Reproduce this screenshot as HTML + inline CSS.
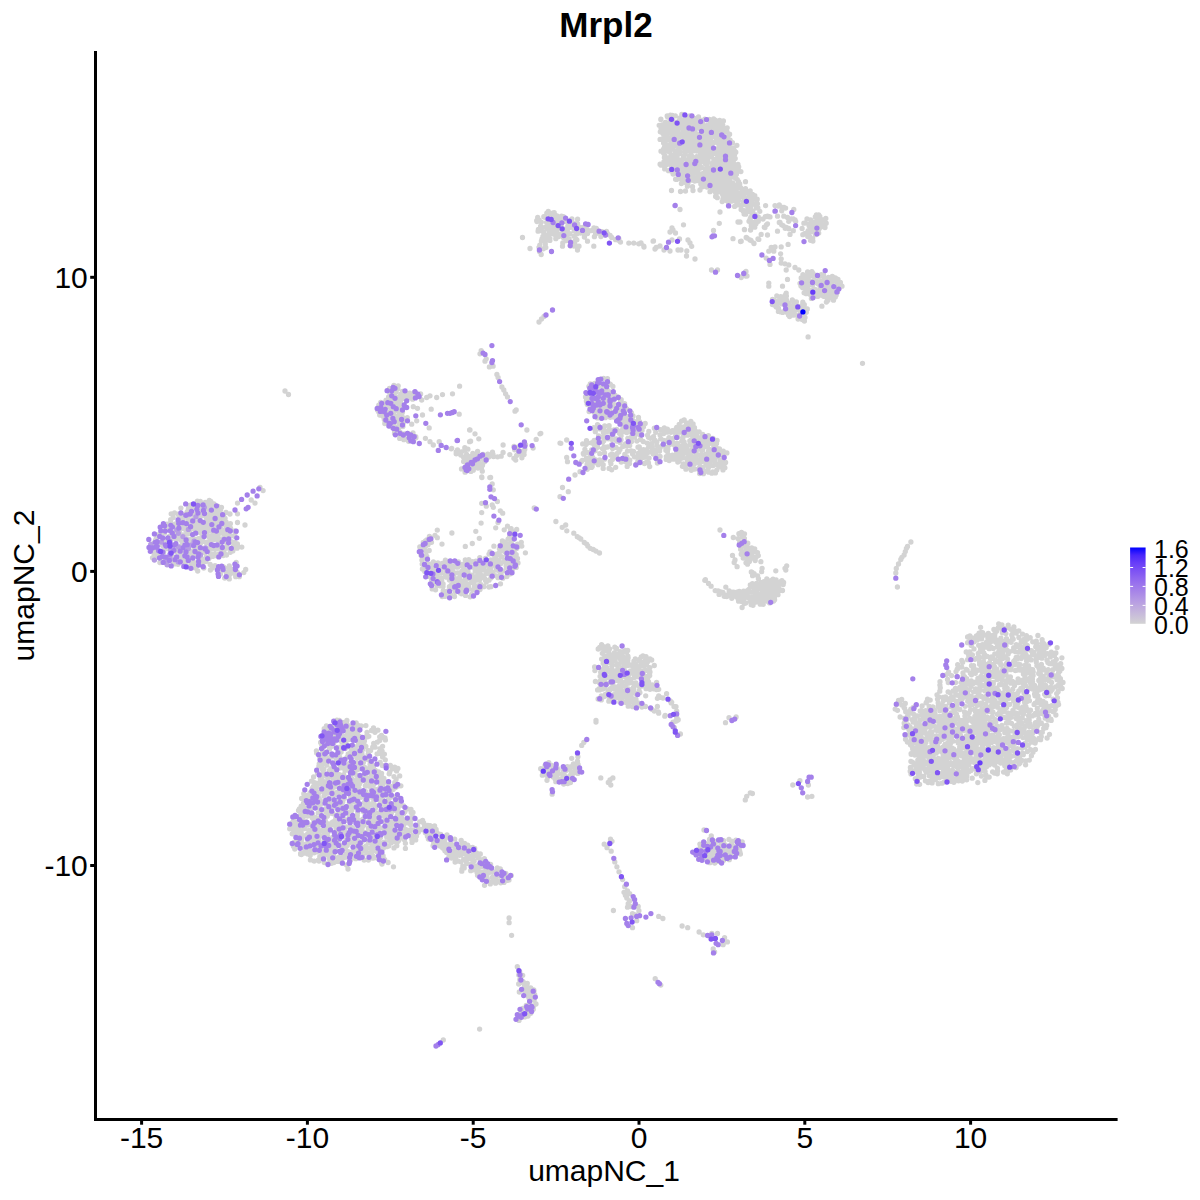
<!DOCTYPE html>
<html><head><meta charset="utf-8"><title>Mrpl2</title>
<style>html,body{margin:0;padding:0;background:#fff;width:1200px;height:1200px;overflow:hidden}svg{display:block}</style>
</head><body>
<svg width="1200" height="1200" viewBox="0 0 1200 1200">
<rect width="1200" height="1200" fill="#fff"/>
<g stroke-width="5.3" stroke-linecap="round" fill="none">
<path d="M667.2 115.9h0M670.4 115.1h0M672.4 115.4h0M675.3 115.9h0M681.8 114.5h0M689.8 116.0h0M660.9 119.2h0M667.7 117.0h0M672.0 119.0h0M680.0 118.0h0M686.9 118.2h0M690.4 119.0h0M694.5 118.4h0M698.5 116.9h0M704.8 119.1h0M713.6 118.9h0M660.8 119.4h0M665.5 122.3h0M670.2 121.3h0M674.0 122.1h0M674.8 122.1h0M679.1 120.5h0M682.6 119.7h0M685.6 121.0h0M690.1 122.2h0M692.9 121.2h0M696.1 121.5h0M700.5 121.4h0M701.2 120.5h0M709.4 119.4h0M713.4 120.3h0M715.3 120.2h0M719.7 120.5h0M723.4 121.0h0M661.9 124.9h0M665.1 123.1h0M668.3 123.6h0M671.0 122.6h0M674.2 124.2h0M679.1 124.6h0M681.0 122.2h0M683.7 125.1h0M687.8 123.7h0M691.4 124.8h0M693.2 122.7h0M698.3 124.2h0M701.8 122.6h0M702.8 123.2h0M707.9 125.0h0M710.3 123.1h0M714.0 124.1h0M718.0 124.2h0M719.9 123.0h0M722.7 125.0h0M659.2 125.3h0M665.3 127.7h0M670.2 126.7h0M674.2 125.8h0M676.3 126.1h0M678.7 125.4h0M683.3 125.6h0M685.2 127.0h0M690.3 126.3h0M693.4 126.4h0M695.3 125.4h0M700.2 127.3h0M702.4 125.9h0M706.4 127.0h0M710.1 126.8h0M712.2 126.0h0M717.0 127.2h0M719.0 126.5h0M722.4 126.8h0M727.2 127.8h0M661.0 128.4h0M665.2 129.8h0M667.7 128.3h0M670.9 130.7h0M673.1 128.9h0M677.8 130.4h0M681.5 128.1h0M683.3 129.1h0M688.0 129.8h0M690.4 128.0h0M694.0 130.6h0M697.4 128.0h0M700.7 128.9h0M703.6 129.1h0M708.2 130.7h0M710.5 127.9h0M714.1 129.5h0M718.4 129.5h0M719.7 128.0h0M723.1 130.7h0M726.0 128.9h0M660.3 131.8h0M662.9 133.6h0M666.1 132.8h0M669.2 131.7h0M674.3 131.1h0M675.8 132.8h0M680.3 133.6h0M683.3 131.2h0M686.5 131.3h0M690.0 133.7h0M691.8 133.4h0M695.6 133.2h0M700.6 133.4h0M701.8 132.5h0M707.0 133.0h0M710.6 132.9h0M712.4 131.2h0M717.2 132.6h0M717.9 131.2h0M723.1 131.7h0M727.1 131.8h0M665.0 135.9h0M667.8 133.7h0M672.4 135.2h0M673.4 134.6h0M678.8 134.6h0M681.4 135.3h0M685.1 134.0h0M688.9 136.2h0M690.2 136.3h0M693.4 136.3h0M699.1 134.7h0M702.2 135.7h0M705.0 136.6h0M708.5 136.4h0M712.1 134.9h0M714.3 135.5h0M717.0 134.4h0M720.2 134.4h0M723.4 136.2h0M728.0 136.6h0M729.6 134.2h0M663.1 138.5h0M666.8 138.3h0M669.3 138.5h0M674.0 138.6h0M675.0 137.5h0M679.0 137.1h0M683.8 137.3h0M684.7 137.7h0M690.2 136.5h0M691.5 138.2h0M695.7 137.3h0M699.0 137.8h0M702.2 136.7h0M706.5 136.5h0M707.8 139.1h0M712.6 136.8h0M716.7 139.2h0M720.3 136.5h0M721.1 139.1h0M660.1 139.4h0M664.6 140.1h0M667.1 139.7h0M671.1 140.7h0M673.8 141.9h0M677.2 141.5h0M680.9 142.3h0M685.5 141.9h0M687.1 140.2h0M692.0 141.4h0M694.8 140.1h0M697.0 141.7h0M701.1 140.3h0M703.8 141.1h0M706.6 141.9h0M710.5 140.1h0M715.5 141.7h0M717.9 140.4h0M720.8 139.4h0M725.2 140.8h0M726.8 139.9h0M730.1 140.2h0M663.6 143.1h0M666.2 144.7h0M670.6 144.2h0M674.1 143.4h0M674.9 144.3h0M680.9 142.2h0M682.6 143.4h0M687.1 142.3h0M688.9 143.5h0M691.9 143.7h0M696.4 143.8h0M698.1 144.1h0M701.4 145.1h0M706.8 144.5h0M710.5 142.7h0M713.9 142.4h0M717.2 142.6h0M720.3 143.0h0M723.1 144.6h0M726.2 142.4h0M728.4 143.9h0M732.5 142.6h0M664.5 147.1h0M667.1 147.7h0M671.5 146.4h0M673.6 146.5h0M678.2 145.6h0M680.9 147.0h0M683.4 147.0h0M686.9 145.2h0M691.8 147.3h0M694.1 147.9h0M698.4 147.9h0M701.2 145.2h0M704.3 145.1h0M708.5 146.9h0M711.6 145.6h0M712.8 147.6h0M718.9 145.2h0M719.6 147.6h0M724.1 146.7h0M727.0 145.5h0M729.6 146.9h0M733.5 147.9h0M736.9 145.3h0M663.5 149.1h0M667.4 149.8h0M670.0 150.1h0M673.1 149.1h0M677.5 150.7h0M678.7 148.5h0M684.2 148.6h0M686.3 149.2h0M689.1 149.7h0M693.5 150.8h0M695.0 148.5h0M700.1 148.6h0M703.9 149.2h0M707.1 150.8h0M710.2 150.8h0M712.1 148.5h0M716.6 149.2h0M718.7 150.6h0M721.9 148.7h0M726.6 150.6h0M727.9 148.9h0M734.3 150.3h0M661.0 151.2h0M663.7 153.2h0M668.1 151.3h0M670.2 150.8h0M675.6 151.4h0M677.6 152.3h0M679.8 151.8h0M684.7 152.1h0M688.4 151.2h0M691.1 151.0h0M693.9 150.8h0M696.8 151.1h0M701.1 151.9h0M705.4 151.9h0M708.7 151.6h0M710.8 151.8h0M715.0 153.4h0M716.8 153.1h0M720.1 152.1h0M724.2 151.4h0M726.7 151.0h0M730.2 151.7h0M734.8 151.6h0M735.8 152.2h0M665.1 155.8h0M670.8 155.7h0M672.3 155.0h0M675.9 155.0h0M679.6 153.7h0M683.6 156.2h0M685.0 154.3h0M689.3 156.5h0M691.6 155.9h0M696.6 156.6h0M700.3 154.9h0M701.8 156.2h0M706.2 154.2h0M710.2 154.0h0M711.3 155.8h0M716.9 154.6h0M717.8 155.6h0M721.8 156.1h0M724.4 155.6h0M729.7 153.8h0M731.8 155.2h0M734.5 154.7h0M664.4 157.5h0M669.0 158.2h0M671.5 158.5h0M673.7 157.9h0M677.1 157.4h0M682.6 159.4h0M683.8 157.6h0M689.2 159.1h0M691.1 157.9h0M695.5 158.6h0M698.0 159.0h0M701.1 158.9h0M705.3 157.3h0M708.3 157.1h0M710.3 156.8h0M714.0 159.3h0M717.6 157.8h0M721.4 157.4h0M725.1 158.8h0M727.2 157.4h0M730.1 158.6h0M735.2 158.4h0M664.0 161.7h0M667.5 161.2h0M669.9 160.7h0M673.2 161.3h0M675.2 160.3h0M680.1 160.3h0M681.5 159.8h0M687.2 159.8h0M688.9 161.4h0M691.3 159.9h0M695.6 159.6h0M698.6 161.5h0M701.2 161.8h0M705.6 160.6h0M708.1 161.6h0M713.4 162.2h0M715.2 161.3h0M718.3 161.6h0M722.7 161.7h0M726.8 160.3h0M729.2 161.2h0M733.3 161.6h0M660.1 164.2h0M664.0 165.0h0M667.1 163.9h0M670.0 163.6h0M673.4 164.7h0M677.4 163.8h0M679.9 163.2h0M683.3 164.7h0M687.2 162.3h0M689.8 162.9h0M694.6 163.5h0M698.9 163.9h0M699.7 163.7h0M705.3 163.6h0M707.0 164.4h0M712.3 163.8h0M715.1 163.5h0M718.9 163.7h0M719.9 163.0h0M725.0 162.3h0M726.9 163.5h0M730.1 163.1h0M734.8 164.7h0M738.0 164.4h0M661.1 165.2h0M663.7 165.2h0M665.7 165.3h0M671.1 165.8h0M671.8 165.5h0M677.3 167.4h0M678.9 167.0h0M681.5 165.6h0M685.4 167.3h0M689.8 167.1h0M691.8 166.4h0M695.5 166.1h0M698.4 166.2h0M701.4 167.4h0M706.3 167.8h0M710.1 168.0h0M712.4 167.9h0M715.8 166.2h0M720.5 166.6h0M722.5 165.2h0M726.4 166.9h0M730.0 166.4h0M731.6 166.7h0M738.7 166.8h0M664.7 168.9h0M668.5 170.7h0M671.3 170.9h0M675.4 169.2h0M679.0 168.6h0M679.8 169.8h0M683.7 169.4h0M687.8 170.4h0M691.3 169.3h0M694.2 168.8h0M698.2 168.6h0M700.6 168.1h0M705.4 170.6h0M706.2 170.8h0M712.0 167.9h0M713.3 170.6h0M716.2 169.7h0M720.9 169.1h0M724.7 167.9h0M726.2 169.3h0M729.9 170.2h0M735.1 169.1h0M673.0 171.8h0M675.0 171.5h0M680.0 171.3h0M682.4 171.2h0M686.2 172.7h0M688.8 173.7h0M693.2 172.0h0M696.6 173.0h0M697.9 171.8h0M702.5 173.6h0M705.1 172.1h0M709.0 172.3h0M713.3 172.7h0M715.7 171.3h0M720.2 173.4h0M721.3 171.6h0M724.4 171.6h0M729.9 170.9h0M732.7 170.8h0M736.3 172.2h0M739.6 171.2h0M740.9 171.6h0M673.1 174.0h0M677.8 173.7h0M680.0 175.7h0M683.3 174.7h0M689.1 175.5h0M690.1 176.3h0M693.3 175.0h0M698.6 173.8h0M702.1 173.8h0M705.0 175.9h0M707.5 175.6h0M710.7 174.0h0M714.3 174.7h0M718.6 175.1h0M720.8 175.8h0M725.0 175.6h0M727.7 173.8h0M731.8 175.6h0M736.4 174.3h0M675.6 179.2h0M678.5 178.7h0M682.2 179.3h0M685.3 178.5h0M689.6 178.1h0M694.2 178.9h0M694.8 178.4h0M698.5 176.9h0M701.4 178.0h0M707.1 179.1h0M709.3 177.8h0M712.3 178.2h0M716.0 178.2h0M718.2 177.8h0M723.9 178.6h0M725.2 179.2h0M729.3 178.6h0M733.6 177.2h0M735.7 178.2h0M676.5 179.4h0M682.2 182.2h0M684.1 180.6h0M688.2 182.0h0M691.9 180.1h0M694.7 181.1h0M697.1 180.5h0M701.6 180.1h0M705.5 180.3h0M706.3 180.8h0M711.5 180.7h0M714.3 182.0h0M717.2 181.3h0M721.2 180.6h0M724.0 179.5h0M727.2 180.4h0M729.4 180.4h0M737.3 179.6h0M681.4 183.6h0M686.1 182.8h0M688.0 183.0h0M700.8 184.0h0M703.9 182.6h0M706.8 182.8h0M710.7 184.6h0M711.7 182.8h0M715.8 182.7h0M720.1 183.2h0M721.4 182.8h0M725.2 184.3h0M729.2 184.6h0M732.7 183.0h0M735.2 185.0h0M687.4 186.2h0M692.5 186.7h0M701.8 187.1h0M703.2 186.5h0M707.0 187.0h0M711.1 186.2h0M712.9 185.8h0M717.3 185.5h0M719.3 185.6h0M723.1 187.5h0M727.3 186.1h0M731.4 187.0h0M738.4 187.8h0M740.6 187.7h0M712.8 189.6h0M715.5 188.3h0M719.2 189.3h0M722.4 189.2h0M726.6 189.6h0M727.7 189.3h0M732.4 190.0h0M736.3 190.0h0M742.5 190.5h0M745.5 190.6h0M710.0 191.7h0M715.2 191.8h0M717.9 192.1h0M719.6 191.9h0M724.5 192.4h0M728.6 191.4h0M731.1 193.0h0M732.7 193.1h0M736.0 193.7h0M741.9 191.4h0M744.6 193.6h0M747.0 191.6h0M750.4 193.5h0M716.0 195.2h0M722.7 194.8h0M725.3 195.6h0M728.3 195.3h0M731.2 194.9h0M735.4 193.8h0M739.5 194.4h0M743.0 193.7h0M749.6 194.1h0M752.5 194.4h0M715.6 196.5h0M717.3 197.7h0M722.9 199.0h0M727.9 198.0h0M731.8 199.1h0M733.1 197.5h0M737.0 197.7h0M741.4 196.5h0M742.9 197.1h0M747.0 198.2h0M751.0 196.6h0M752.5 199.4h0M722.2 201.6h0M726.6 200.5h0M729.1 200.8h0M731.9 201.0h0M735.9 201.4h0M738.5 200.2h0M743.5 201.4h0M746.8 200.2h0M748.8 200.6h0M750.9 202.1h0M728.4 202.3h0M736.7 205.1h0M739.4 204.8h0M742.5 204.6h0M747.2 203.1h0M749.4 203.3h0M754.4 203.7h0M757.4 203.7h0M734.6 206.4h0M741.6 205.6h0M746.4 205.3h0M749.3 205.7h0M750.8 207.0h0M755.9 205.2h0M757.9 208.0h0M741.1 209.6h0M744.0 210.7h0M748.2 208.8h0M750.9 209.7h0M752.8 210.8h0M756.6 207.9h0M743.3 211.3h0M744.1 211.4h0M749.4 211.4h0M751.3 212.5h0M759.8 211.3h0M744.1 214.0h0M745.7 214.2h0M755.1 214.7h0M750.8 217.4h0M756.4 219.2h0M758.3 217.0h0M749.6 220.3h0M756.5 220.8h0M750.7 222.6h0M756.0 223.3h0M765.6 205.6h0M775.0 205.6h0M778.8 206.2h0M782.5 207.5h0M785.6 208.1h0M793.8 209.4h0M777.5 216.2h0M783.8 216.2h0M787.5 217.5h0M791.2 218.8h0M795.0 220.0h0M780.0 222.5h0M783.1 225.6h0M786.2 227.5h0M788.8 228.8h0M777.5 231.2h0M790.0 234.4h0M767.5 216.2h0M770.0 216.9h0M765.0 227.5h0M767.5 223.8h0M761.2 234.4h0M758.8 239.4h0M767.5 235.0h0M746.2 237.5h0M750.0 240.0h0M753.8 243.1h0M741.2 241.2h0M744.4 229.4h0M750.6 230.0h0M768.8 251.2h0M771.2 247.5h0M775.0 246.9h0M773.8 251.2h0M781.2 246.9h0M788.1 244.4h0M780.6 253.8h0M781.2 258.8h0M781.2 263.1h0M785.0 263.8h0M788.8 265.0h0M795.0 267.5h0M798.8 270.0h0M786.2 270.0h0M787.5 279.4h0M782.5 286.2h0M768.8 283.1h0M768.8 286.2h0M786.2 293.1h0M770.0 264.4h0M766.2 258.1h0M746.2 276.2h0M741.2 277.5h0M821.9 306.2h0M808.1 336.9h0M816.4 214.8h0M818.7 215.0h0M815.3 217.0h0M816.7 217.5h0M819.8 216.3h0M825.8 218.5h0M807.0 219.0h0M810.5 219.8h0M817.0 220.5h0M817.8 219.4h0M822.6 219.9h0M803.9 223.2h0M805.0 223.0h0M809.0 224.4h0M813.3 222.2h0M818.1 222.5h0M821.4 224.3h0M826.2 223.2h0M809.1 225.8h0M813.4 226.4h0M816.0 224.8h0M819.5 226.4h0M822.3 226.5h0M825.0 227.5h0M802.1 228.4h0M808.2 230.7h0M810.6 230.2h0M814.9 230.0h0M819.0 229.1h0M819.8 227.8h0M804.5 233.7h0M807.7 232.0h0M811.1 231.7h0M815.8 232.3h0M818.7 233.1h0M802.8 234.7h0M807.8 236.6h0M809.5 236.3h0M815.3 234.7h0M816.7 234.3h0M809.9 237.4h0M812.7 238.8h0M810.5 240.3h0M812.9 241.1h0M807.6 271.8h0M811.9 271.7h0M802.9 274.6h0M807.9 275.5h0M811.6 275.3h0M813.0 273.3h0M816.4 275.5h0M821.4 274.6h0M823.5 274.7h0M801.2 277.9h0M804.5 276.2h0M808.0 277.4h0M814.9 275.9h0M818.9 276.5h0M823.9 277.4h0M826.8 278.3h0M828.4 277.3h0M832.3 276.5h0M835.3 277.8h0M801.9 279.4h0M805.3 280.3h0M806.5 281.5h0M810.0 280.7h0M814.2 280.2h0M816.8 281.4h0M821.0 281.5h0M824.4 281.4h0M827.6 278.9h0M832.0 279.9h0M834.6 279.3h0M838.0 279.4h0M800.0 283.3h0M801.3 282.8h0M805.4 283.7h0M809.9 281.8h0M812.9 282.0h0M814.5 282.7h0M818.3 283.9h0M823.8 282.3h0M824.6 283.6h0M830.5 283.1h0M832.0 283.3h0M837.0 281.9h0M840.4 282.5h0M801.0 285.9h0M804.4 285.7h0M807.8 286.4h0M812.5 285.1h0M821.8 287.2h0M824.8 286.2h0M826.5 285.9h0M831.1 287.4h0M835.5 287.2h0M838.5 284.8h0M842.0 286.2h0M802.7 287.7h0M805.8 289.7h0M807.9 288.7h0M811.8 290.2h0M815.0 289.3h0M820.2 287.6h0M823.7 289.9h0M825.7 287.9h0M829.1 290.2h0M833.3 290.1h0M836.6 288.3h0M839.1 288.1h0M804.1 292.8h0M808.0 291.1h0M813.6 292.4h0M818.4 291.2h0M820.2 291.1h0M824.7 291.3h0M828.4 290.7h0M831.6 290.7h0M834.2 291.6h0M837.5 292.1h0M806.2 293.7h0M810.5 294.7h0M812.1 295.6h0M815.7 295.2h0M819.5 295.0h0M822.2 295.2h0M826.3 295.3h0M828.7 293.7h0M833.8 293.7h0M836.2 295.1h0M811.4 298.4h0M812.8 296.9h0M817.7 296.4h0M823.6 296.3h0M827.0 298.1h0M830.6 297.3h0M835.3 297.1h0M826.4 302.1h0M828.0 300.2h0M833.5 300.2h0M785.2 295.2h0M776.8 295.8h0M780.7 296.6h0M782.0 298.0h0M786.4 296.0h0M772.5 299.3h0M773.6 300.0h0M778.3 300.9h0M782.5 299.0h0M785.4 298.4h0M786.4 299.7h0M792.3 300.0h0M776.1 302.8h0M778.9 302.7h0M782.2 302.0h0M785.9 301.1h0M788.6 302.9h0M793.6 301.3h0M796.4 301.8h0M802.8 302.2h0M772.4 304.6h0M775.9 306.5h0M776.8 306.4h0M781.5 303.8h0M785.4 305.9h0M787.3 304.1h0M790.2 305.9h0M793.7 304.9h0M798.6 306.5h0M802.1 305.4h0M804.3 304.7h0M776.3 307.1h0M778.5 308.5h0M786.2 307.6h0M789.6 309.1h0M791.9 307.0h0M796.3 309.0h0M798.8 308.5h0M802.4 306.6h0M807.3 309.0h0M778.4 311.4h0M780.8 311.9h0M784.7 311.0h0M787.1 310.6h0M789.7 311.1h0M795.2 310.3h0M798.0 309.5h0M800.7 311.9h0M804.3 309.7h0M806.3 312.3h0M782.6 312.4h0M786.7 312.3h0M788.5 315.0h0M792.5 312.5h0M796.3 315.1h0M799.6 314.9h0M802.7 312.5h0M789.6 316.6h0M793.3 315.2h0M798.3 315.9h0M800.3 317.1h0M805.0 317.4h0M798.1 319.0h0M802.2 319.6h0M804.4 321.1h0M548.3 211.5h0M546.8 213.2h0M552.5 213.1h0M554.2 212.7h0M537.7 217.5h0M543.8 216.7h0M544.8 217.3h0M550.3 217.1h0M551.8 214.9h0M557.0 216.0h0M561.5 216.1h0M563.4 216.6h0M536.7 220.7h0M539.2 220.1h0M548.3 220.3h0M552.3 219.9h0M553.4 217.9h0M557.3 219.5h0M561.5 220.6h0M566.4 220.6h0M571.9 218.8h0M577.6 219.2h0M537.0 221.5h0M541.3 222.1h0M546.6 222.3h0M550.2 223.0h0M551.5 223.6h0M557.2 223.7h0M558.8 222.5h0M564.8 221.4h0M568.7 221.3h0M572.2 222.2h0M575.4 223.9h0M577.6 223.8h0M540.6 226.1h0M545.3 227.1h0M548.5 224.0h0M551.9 225.4h0M555.4 224.8h0M558.1 225.3h0M561.2 226.3h0M567.8 225.9h0M571.3 226.7h0M575.7 226.8h0M579.4 227.2h0M583.9 227.1h0M586.9 225.7h0M538.4 229.3h0M540.9 229.9h0M546.9 228.5h0M550.3 227.9h0M554.0 228.0h0M556.6 229.6h0M561.2 228.5h0M563.5 228.9h0M567.3 229.5h0M570.1 227.3h0M573.9 228.6h0M576.9 228.4h0M580.4 227.5h0M583.8 227.6h0M587.6 230.1h0M593.9 227.9h0M596.3 228.4h0M540.3 230.5h0M543.6 232.2h0M549.1 232.0h0M550.4 230.6h0M553.9 233.2h0M557.0 231.8h0M562.6 232.4h0M566.3 233.1h0M567.6 231.9h0M574.3 230.7h0M575.9 232.5h0M580.4 233.0h0M584.6 230.8h0M588.5 230.9h0M591.2 230.6h0M594.2 230.7h0M598.7 231.7h0M602.0 231.6h0M606.5 231.3h0M607.2 233.1h0M542.9 236.3h0M547.2 235.5h0M550.4 233.6h0M553.8 234.0h0M555.5 235.2h0M561.0 234.3h0M564.8 236.2h0M566.9 234.9h0M570.0 233.7h0M574.1 236.3h0M577.0 233.7h0M584.3 234.1h0M587.5 233.5h0M595.5 234.1h0M599.7 233.3h0M604.7 235.0h0M610.1 235.3h0M542.0 238.9h0M546.7 239.5h0M549.9 238.3h0M555.8 238.7h0M558.7 236.6h0M563.4 237.6h0M565.9 238.4h0M569.1 238.9h0M575.9 238.8h0M584.4 237.0h0M594.4 236.7h0M600.9 236.5h0M611.7 237.5h0M618.8 238.7h0M541.4 240.9h0M545.9 240.5h0M549.9 240.4h0M566.7 240.6h0M572.5 242.4h0M575.6 239.9h0M576.9 239.8h0M615.6 239.7h0M618.5 240.2h0M620.5 242.1h0M539.8 245.1h0M545.3 244.0h0M562.8 243.0h0M574.1 245.2h0M574.9 244.4h0M539.0 247.3h0M543.3 248.8h0M545.8 247.5h0M570.5 245.9h0M574.0 246.1h0M579.0 246.2h0M539.5 251.5h0M541.2 254.5h0M522.5 237.5h0M530.0 248.5h0M538.1 231.2h0M593.8 246.2h0M587.5 241.2h0M628.8 243.1h0M633.8 243.1h0M638.8 243.8h0M643.8 246.2h0M653.1 241.2h0M656.2 247.5h0M562.5 246.2h0M577.5 250.0h0M671.5 190.5h0M680.5 191.5h0M685.5 191.0h0M693.0 190.5h0M700.0 190.0h0M680.0 209.5h0M683.5 224.8h0M672.0 228.0h0M670.0 232.0h0M675.5 233.0h0M673.0 230.0h0M653.5 241.0h0M641.0 243.0h0M644.0 247.0h0M655.0 249.0h0M660.0 246.0h0M664.0 250.0h0M670.0 251.0h0M678.0 250.0h0M681.0 250.0h0M672.0 240.0h0M679.5 239.0h0M688.0 240.0h0M690.0 243.0h0M691.7 246.3h0M686.8 251.0h0M686.5 256.0h0M695.0 259.0h0M713.5 230.5h0M719.3 223.3h0M720.0 212.0h0M733.0 238.7h0M740.5 241.5h0M744.5 229.7h0M750.5 230.0h0M738.0 222.0h0M740.0 222.0h0M747.0 238.0h0M751.0 240.5h0M754.0 243.5h0M758.0 239.0h0M711.5 270.0h0M717.5 270.0h0M746.0 271.5h0M747.0 276.0h0M741.0 277.0h0M197.4 501.1h0M200.3 501.3h0M205.2 502.4h0M209.3 500.4h0M210.8 501.3h0M189.3 505.5h0M191.8 504.6h0M199.7 503.8h0M208.3 504.1h0M209.7 504.7h0M214.0 504.0h0M180.9 508.1h0M188.4 508.5h0M191.2 507.2h0M194.3 507.4h0M201.7 507.3h0M210.3 507.6h0M211.3 507.5h0M218.0 506.3h0M221.5 507.5h0M187.3 511.6h0M189.6 509.8h0M199.0 510.4h0M206.8 508.9h0M215.1 509.8h0M218.3 511.5h0M220.6 509.8h0M171.2 513.8h0M174.5 512.9h0M178.0 514.1h0M185.4 514.1h0M195.7 513.7h0M203.0 512.8h0M210.0 512.3h0M213.1 511.9h0M215.1 514.2h0M219.8 513.6h0M226.0 512.4h0M230.0 514.0h0M173.2 517.6h0M179.0 516.6h0M183.1 515.3h0M188.1 517.5h0M194.0 515.2h0M198.6 515.6h0M203.8 515.5h0M207.4 515.0h0M210.1 514.9h0M213.2 515.8h0M217.4 515.5h0M219.7 516.9h0M223.6 515.8h0M170.7 519.6h0M180.7 518.7h0M183.2 519.9h0M188.6 519.7h0M192.4 520.2h0M193.9 517.9h0M199.8 517.9h0M206.6 518.6h0M209.4 518.6h0M212.5 518.9h0M218.6 520.2h0M223.1 519.4h0M225.1 518.5h0M170.7 521.9h0M175.6 523.8h0M188.4 523.5h0M197.3 522.2h0M199.0 522.0h0M207.5 521.6h0M211.8 522.8h0M215.4 521.7h0M218.6 523.5h0M226.0 521.8h0M230.4 523.6h0M167.0 524.2h0M173.3 526.5h0M177.5 524.9h0M181.9 525.9h0M182.8 524.4h0M186.9 526.8h0M193.4 525.1h0M198.1 524.6h0M201.8 524.9h0M206.2 524.5h0M209.5 525.7h0M214.9 525.0h0M218.2 524.7h0M222.7 524.2h0M226.0 525.8h0M229.9 526.6h0M165.2 527.7h0M170.1 529.2h0M183.1 528.3h0M186.2 529.2h0M191.6 528.6h0M195.2 527.6h0M199.1 529.5h0M202.6 527.7h0M206.5 529.7h0M209.7 527.0h0M213.7 526.9h0M220.9 528.8h0M225.9 528.8h0M230.6 528.5h0M174.0 532.7h0M175.7 533.0h0M179.5 531.6h0M185.8 529.9h0M188.9 531.1h0M189.9 531.9h0M195.4 530.6h0M199.2 532.2h0M202.6 531.0h0M209.4 530.7h0M219.1 530.2h0M224.2 530.1h0M226.9 532.5h0M234.8 530.8h0M235.5 532.2h0M156.9 535.0h0M160.5 533.7h0M164.4 533.2h0M169.6 536.1h0M175.7 534.7h0M183.1 535.0h0M186.4 533.8h0M189.3 533.5h0M201.2 533.1h0M204.5 535.0h0M206.6 534.0h0M212.0 535.9h0M213.3 533.3h0M217.3 533.8h0M219.9 533.2h0M223.9 533.9h0M227.1 536.0h0M230.3 536.0h0M234.2 535.7h0M156.2 538.6h0M170.9 536.9h0M178.2 536.9h0M182.2 538.3h0M187.5 538.9h0M192.0 538.8h0M193.8 538.6h0M198.4 538.7h0M201.9 536.9h0M209.1 536.9h0M210.8 536.0h0M215.7 536.2h0M217.9 536.7h0M221.6 539.0h0M225.5 536.3h0M234.4 536.3h0M155.4 540.5h0M165.2 539.7h0M171.1 539.3h0M176.2 539.2h0M179.2 539.0h0M181.6 540.7h0M190.3 541.9h0M197.4 539.1h0M198.8 540.0h0M203.3 541.3h0M207.8 541.8h0M211.3 539.0h0M213.8 539.7h0M218.1 539.9h0M221.0 541.3h0M226.5 540.3h0M232.0 542.0h0M153.6 543.1h0M160.5 544.6h0M164.2 543.2h0M181.8 545.1h0M200.5 543.3h0M206.5 543.0h0M209.8 543.0h0M220.7 543.1h0M227.1 543.6h0M234.6 542.3h0M237.4 544.0h0M162.9 545.8h0M169.3 547.5h0M171.7 547.9h0M175.2 546.1h0M184.8 546.8h0M189.5 545.8h0M196.5 545.3h0M204.2 548.1h0M210.3 547.0h0M217.4 546.1h0M223.0 547.6h0M226.6 546.3h0M233.0 547.2h0M234.7 547.7h0M237.1 548.2h0M241.8 547.1h0M153.8 550.9h0M156.1 550.9h0M163.9 548.2h0M167.2 548.7h0M176.2 550.7h0M184.3 550.8h0M192.2 550.8h0M194.8 548.5h0M198.5 550.2h0M200.7 550.3h0M208.6 549.7h0M212.3 548.5h0M216.0 549.1h0M220.8 549.6h0M222.6 550.1h0M227.1 548.1h0M232.8 550.9h0M155.2 553.4h0M157.8 553.3h0M163.6 552.4h0M171.2 552.0h0M175.9 551.6h0M178.3 551.2h0M182.7 553.4h0M190.2 552.3h0M194.5 553.9h0M204.8 552.6h0M210.5 553.6h0M214.2 554.0h0M218.5 554.1h0M223.9 551.8h0M230.3 552.3h0M154.2 554.3h0M155.1 556.2h0M160.0 557.2h0M173.9 557.2h0M179.6 556.5h0M190.0 555.3h0M193.4 555.5h0M206.2 557.1h0M212.7 556.4h0M215.8 555.7h0M223.2 555.6h0M226.5 555.0h0M152.5 557.8h0M161.8 557.4h0M165.0 558.6h0M168.6 557.8h0M172.1 559.6h0M180.4 558.0h0M181.9 559.8h0M185.7 557.9h0M190.5 557.2h0M199.6 559.2h0M202.8 559.5h0M208.9 558.5h0M159.9 562.6h0M173.4 561.9h0M185.2 561.5h0M191.2 562.8h0M193.9 562.3h0M202.3 561.0h0M205.9 561.6h0M175.4 563.9h0M178.0 564.3h0M185.2 563.7h0M190.5 565.8h0M192.4 564.0h0M196.4 566.2h0M202.0 565.2h0M210.2 564.5h0M194.7 567.8h0M203.8 568.0h0M197.7 571.0h0M236.2 562.3h0M215.0 565.7h0M229.3 566.0h0M212.3 568.1h0M223.5 566.9h0M228.5 567.6h0M232.3 569.5h0M245.7 569.4h0M210.4 570.0h0M220.9 570.7h0M226.1 572.1h0M229.3 571.9h0M237.0 572.0h0M243.8 572.6h0M220.4 574.1h0M226.5 575.7h0M229.5 574.8h0M233.3 573.0h0M238.2 573.6h0M224.7 578.1h0M229.3 578.9h0M235.7 576.7h0M239.3 576.7h0M237.5 503.1h0M237.5 513.8h0M251.2 500.0h0M255.0 503.1h0M260.0 487.5h0M263.1 490.6h0M237.5 522.5h0M245.0 525.0h0M393.9 385.5h0M398.2 385.8h0M389.5 388.3h0M397.8 388.7h0M391.2 389.6h0M394.4 389.2h0M402.5 391.4h0M389.6 392.2h0M391.9 391.9h0M396.1 391.8h0M400.9 394.2h0M402.9 392.6h0M407.0 393.9h0M409.6 393.1h0M414.4 392.3h0M416.5 394.5h0M420.6 394.0h0M388.6 396.9h0M392.8 395.2h0M394.9 396.1h0M398.0 397.1h0M401.0 394.8h0M405.4 396.7h0M407.3 395.2h0M412.0 396.0h0M413.6 394.9h0M386.1 400.1h0M388.7 398.4h0M392.5 399.2h0M397.6 400.2h0M400.6 398.5h0M403.4 398.3h0M407.0 397.9h0M409.5 397.6h0M412.6 399.2h0M380.7 402.3h0M384.1 403.0h0M392.1 401.1h0M396.2 400.3h0M399.4 400.2h0M400.6 402.0h0M378.8 405.2h0M383.1 403.4h0M385.2 403.8h0M390.4 404.8h0M392.1 403.4h0M397.0 404.5h0M399.3 405.8h0M382.2 407.3h0M384.6 407.5h0M387.7 406.7h0M390.3 406.2h0M398.5 408.2h0M401.7 407.2h0M377.5 409.9h0M383.2 409.0h0M391.0 409.2h0M394.1 409.5h0M395.5 410.9h0M399.3 411.4h0M401.8 409.8h0M378.8 412.0h0M381.7 412.7h0M385.9 413.1h0M387.2 413.9h0M390.2 411.7h0M399.5 413.3h0M402.5 412.0h0M379.7 415.0h0M383.3 416.4h0M386.5 416.5h0M389.7 416.1h0M393.9 415.2h0M396.0 416.3h0M399.2 416.6h0M402.0 416.0h0M384.3 419.5h0M386.9 418.3h0M393.6 420.1h0M397.4 418.1h0M403.8 418.5h0M407.3 417.6h0M386.5 420.5h0M388.8 421.4h0M392.5 420.3h0M395.8 421.1h0M400.6 422.1h0M403.2 423.0h0M384.8 423.5h0M389.6 424.2h0M393.6 425.1h0M399.2 424.8h0M401.3 424.8h0M391.8 426.9h0M395.5 427.1h0M400.1 426.4h0M402.9 426.5h0M394.6 431.2h0M398.7 428.8h0M394.5 433.2h0M400.2 432.5h0M404.3 433.9h0M407.7 433.5h0M413.0 432.8h0M400.5 435.5h0M403.4 436.0h0M409.0 436.9h0M410.1 436.0h0M415.8 436.6h0M399.7 438.4h0M403.9 439.7h0M407.3 439.1h0M414.3 438.4h0M415.9 437.8h0M408.6 441.3h0M413.6 440.9h0M421.7 400.0h0M426.7 397.5h0M430.0 395.8h0M436.7 397.5h0M442.5 394.6h0M452.5 393.8h0M459.6 386.2h0M413.3 406.7h0M417.5 408.3h0M431.2 409.2h0M422.5 415.0h0M411.7 424.2h0M416.7 420.8h0M429.2 427.9h0M425.4 438.3h0M430.0 441.7h0M433.3 445.0h0M439.2 441.7h0M451.7 448.3h0M459.2 414.2h0M457.5 450.0h0M460.8 455.0h0M465.0 450.0h0M469.6 441.7h0M469.6 430.0h0M481.2 350.6h0M480.0 353.8h0M486.2 358.8h0M485.0 361.2h0M489.4 366.9h0M493.1 366.2h0M496.9 374.4h0M498.1 377.5h0M501.9 386.9h0M503.8 390.0h0M505.6 393.8h0M507.5 396.9h0M515.0 411.2h0M516.2 410.0h0M526.9 430.0h0M536.2 439.4h0M540.0 433.8h0M533.1 448.1h0M560.0 443.1h0M470.0 430.0h0M475.0 433.8h0M478.8 438.8h0M470.6 441.2h0M503.1 445.0h0M503.1 452.5h0M501.2 456.2h0M481.9 477.5h0M490.6 477.5h0M451.2 448.8h0M456.2 453.8h0M521.9 457.8h0M464.8 447.7h0M456.2 451.8h0M461.5 451.8h0M465.2 449.3h0M467.9 449.2h0M477.6 451.5h0M460.8 453.8h0M466.6 454.5h0M472.8 453.3h0M476.2 454.3h0M483.0 454.5h0M487.8 454.2h0M492.5 452.2h0M493.0 454.5h0M463.7 457.5h0M468.9 456.3h0M472.0 457.0h0M474.8 456.8h0M476.8 458.2h0M481.6 458.1h0M485.7 457.2h0M488.7 457.1h0M493.5 456.6h0M497.6 456.8h0M466.4 460.5h0M470.9 458.4h0M474.3 461.2h0M475.5 458.4h0M479.2 461.1h0M485.3 458.5h0M463.6 461.6h0M466.5 463.9h0M470.5 462.5h0M476.3 462.2h0M477.4 464.3h0M480.7 463.8h0M484.6 461.7h0M466.0 467.0h0M469.6 466.5h0M474.6 467.4h0M475.6 465.9h0M481.5 467.7h0M482.5 465.2h0M461.5 468.9h0M463.5 468.7h0M472.7 468.8h0M473.3 470.2h0M478.0 468.1h0M481.4 468.0h0M465.1 472.2h0M470.9 471.4h0M514.0 446.4h0M525.5 444.6h0M514.6 449.3h0M518.3 446.8h0M524.8 449.3h0M514.7 449.8h0M518.7 452.9h0M521.3 451.5h0M524.1 451.5h0M509.8 454.6h0M516.6 455.5h0M521.0 454.2h0M524.1 454.6h0M513.9 458.3h0M515.7 460.1h0M507.5 526.2h0M511.1 528.7h0M504.2 529.8h0M510.5 529.8h0M511.8 531.1h0M516.7 529.4h0M510.8 535.2h0M513.3 533.4h0M429.4 536.4h0M509.5 536.9h0M513.8 536.4h0M425.5 540.9h0M428.6 541.3h0M502.4 541.0h0M508.1 539.2h0M509.7 539.4h0M514.0 539.1h0M426.4 543.5h0M503.0 543.2h0M505.2 542.4h0M508.6 544.4h0M511.3 543.5h0M517.6 544.1h0M521.3 542.3h0M422.5 546.6h0M426.2 545.6h0M493.9 546.2h0M500.1 545.3h0M502.7 546.3h0M506.3 545.2h0M516.0 545.7h0M517.8 547.1h0M521.8 546.1h0M420.4 550.9h0M424.3 549.5h0M425.7 550.8h0M499.4 548.8h0M501.1 549.8h0M505.2 548.8h0M509.1 549.1h0M511.3 549.4h0M516.6 548.5h0M426.3 551.7h0M490.0 552.0h0M496.6 554.1h0M499.3 553.0h0M504.4 551.5h0M510.6 551.9h0M514.2 552.4h0M426.3 555.9h0M489.0 554.1h0M494.0 555.2h0M499.0 554.8h0M501.5 556.6h0M506.5 555.0h0M509.3 554.2h0M513.4 556.0h0M516.2 554.7h0M421.9 560.1h0M445.4 560.2h0M465.3 559.9h0M468.8 559.7h0M479.8 557.6h0M485.5 558.4h0M490.7 560.0h0M494.1 559.8h0M495.9 558.7h0M499.1 560.3h0M504.7 560.1h0M512.0 559.1h0M515.7 560.2h0M517.5 558.5h0M433.4 561.8h0M437.9 562.8h0M442.2 563.5h0M458.5 562.0h0M468.5 562.1h0M472.6 561.7h0M475.9 561.2h0M479.0 561.4h0M489.2 562.5h0M490.0 560.6h0M496.0 560.7h0M498.2 562.7h0M501.0 562.8h0M505.2 561.8h0M509.4 563.0h0M512.2 563.1h0M518.0 562.9h0M422.2 564.1h0M426.1 564.0h0M429.9 564.3h0M430.7 564.4h0M436.9 564.8h0M438.4 566.1h0M444.2 566.4h0M446.7 564.0h0M450.1 563.9h0M452.9 566.3h0M456.5 566.1h0M462.2 564.5h0M465.8 564.2h0M469.9 565.2h0M475.9 565.9h0M478.3 565.7h0M482.4 566.3h0M487.0 565.2h0M489.7 564.6h0M492.5 563.9h0M495.2 565.4h0M500.9 563.6h0M506.1 566.0h0M509.6 565.8h0M422.4 568.9h0M425.0 567.6h0M429.5 567.2h0M432.3 568.0h0M438.6 568.2h0M440.8 569.5h0M444.5 567.8h0M449.4 566.7h0M451.3 566.6h0M456.3 567.0h0M458.0 567.1h0M463.0 566.7h0M472.4 567.1h0M477.0 567.3h0M479.0 569.4h0M484.0 567.9h0M489.3 569.6h0M490.8 567.7h0M496.3 569.5h0M497.7 567.3h0M506.6 567.6h0M510.1 568.2h0M512.3 569.5h0M516.2 567.4h0M424.8 571.6h0M428.5 572.6h0M432.0 572.2h0M435.2 570.8h0M440.7 571.9h0M441.1 572.2h0M446.4 570.9h0M449.6 572.8h0M452.4 570.6h0M457.8 572.8h0M461.8 571.5h0M464.6 570.0h0M468.0 571.4h0M475.2 571.0h0M479.7 572.2h0M483.8 569.6h0M484.7 570.3h0M490.0 569.7h0M492.9 572.3h0M496.9 570.0h0M498.7 570.6h0M502.6 571.0h0M508.9 572.6h0M510.7 572.5h0M427.5 573.7h0M429.7 575.0h0M436.4 574.1h0M440.9 573.1h0M445.5 575.0h0M446.9 574.0h0M451.2 575.5h0M454.6 572.9h0M460.2 574.9h0M466.3 575.8h0M468.1 573.5h0M472.0 575.1h0M477.7 575.4h0M480.1 573.3h0M483.2 575.8h0M486.4 573.6h0M490.6 574.2h0M495.4 575.6h0M499.9 574.8h0M501.2 575.1h0M510.4 573.8h0M429.5 576.6h0M436.4 576.4h0M437.7 577.5h0M441.8 578.1h0M446.5 577.2h0M450.8 576.5h0M454.0 577.1h0M458.7 578.3h0M459.9 578.7h0M465.5 578.2h0M472.0 576.8h0M473.9 576.7h0M479.8 578.1h0M483.0 577.6h0M484.7 578.6h0M490.9 577.9h0M498.0 577.7h0M500.7 577.3h0M502.8 578.2h0M506.9 576.5h0M431.6 579.7h0M432.6 580.1h0M441.7 580.9h0M449.4 580.1h0M453.1 582.0h0M454.2 580.4h0M457.9 581.9h0M462.8 581.7h0M465.9 579.2h0M470.0 579.1h0M474.4 579.8h0M476.7 580.1h0M479.4 580.2h0M485.4 580.2h0M489.0 580.2h0M432.0 584.0h0M436.5 584.7h0M440.5 585.1h0M443.1 584.0h0M451.0 585.3h0M455.1 585.3h0M460.1 582.3h0M466.9 583.8h0M471.4 582.4h0M474.2 584.3h0M479.1 585.3h0M481.0 584.6h0M486.3 582.1h0M500.5 583.8h0M437.7 585.3h0M439.9 585.8h0M443.0 586.4h0M449.4 586.7h0M453.2 587.5h0M457.8 586.2h0M463.5 585.7h0M465.6 587.9h0M468.5 586.5h0M474.4 586.4h0M478.3 588.0h0M479.2 585.6h0M483.8 586.7h0M489.0 587.0h0M490.9 586.7h0M432.2 588.9h0M435.6 589.8h0M443.2 591.0h0M446.9 591.3h0M454.5 589.4h0M456.9 589.0h0M460.8 588.6h0M464.3 589.7h0M467.3 590.2h0M472.5 589.8h0M475.2 588.6h0M480.0 589.5h0M443.9 592.9h0M448.1 594.5h0M450.4 594.3h0M455.4 592.0h0M460.3 593.0h0M461.5 593.8h0M471.7 594.4h0M442.2 596.6h0M444.9 596.4h0M454.5 596.6h0M465.5 595.4h0M470.1 596.8h0M482.3 471.2h0M481.7 477.0h0M489.8 477.6h0M492.2 484.0h0M493.3 489.8h0M481.7 503.3h0M486.3 506.2h0M492.2 505.0h0M493.3 507.3h0M497.4 501.5h0M500.3 510.8h0M502.7 513.2h0M498.0 522.5h0M495.7 527.8h0M481.7 512.6h0M481.1 523.1h0M475.8 531.3h0M479.3 538.3h0M472.3 543.5h0M465.3 546.4h0M451.9 533.0h0M437.3 530.1h0M442.0 544.1h0M437.3 537.7h0M525.4 552.8h0M534.2 507.9h0M603.6 378.4h0M607.5 378.7h0M590.3 384.0h0M594.6 383.4h0M606.6 383.6h0M588.9 386.3h0M593.4 385.4h0M597.5 386.5h0M601.1 385.8h0M603.8 385.2h0M607.9 384.8h0M610.2 384.2h0M612.9 386.5h0M591.6 387.7h0M597.5 389.8h0M603.3 388.0h0M604.3 389.1h0M607.3 389.8h0M591.4 390.9h0M593.9 392.0h0M596.6 391.4h0M601.3 391.6h0M605.1 390.5h0M608.0 391.2h0M609.3 391.6h0M594.8 394.2h0M599.6 394.4h0M602.0 394.1h0M605.1 394.9h0M611.6 393.3h0M615.2 395.3h0M585.5 396.9h0M590.0 397.3h0M598.0 396.9h0M601.5 396.6h0M605.2 397.2h0M607.0 397.4h0M610.2 397.2h0M613.2 397.1h0M618.3 397.2h0M586.4 400.9h0M588.8 399.7h0M593.0 398.8h0M594.0 399.9h0M602.4 399.4h0M605.7 401.3h0M609.1 399.9h0M612.1 401.4h0M620.5 399.9h0M621.2 399.7h0M587.1 403.7h0M591.4 404.3h0M596.7 402.7h0M601.3 402.4h0M602.3 404.0h0M607.1 403.1h0M613.8 404.5h0M621.1 402.2h0M624.6 403.7h0M587.4 404.6h0M594.7 405.5h0M599.9 405.4h0M601.3 405.5h0M605.7 406.8h0M612.2 405.9h0M616.6 406.1h0M617.8 405.0h0M622.0 405.6h0M591.6 410.1h0M593.5 408.5h0M597.4 409.4h0M600.3 410.1h0M603.1 409.8h0M607.4 409.6h0M609.8 408.8h0M615.1 407.6h0M616.6 407.5h0M621.0 408.7h0M625.5 407.8h0M626.7 408.8h0M589.1 411.6h0M594.7 412.9h0M598.1 412.1h0M601.5 412.0h0M606.2 412.0h0M613.5 412.5h0M618.3 411.0h0M623.2 411.0h0M631.5 412.8h0M596.9 413.7h0M600.1 414.8h0M603.3 414.9h0M606.4 416.2h0M611.0 415.4h0M614.7 416.4h0M618.3 414.5h0M624.5 413.4h0M627.1 416.3h0M633.0 416.0h0M597.5 417.9h0M601.3 418.3h0M605.2 417.7h0M610.3 417.3h0M613.3 417.0h0M615.3 417.2h0M620.2 417.9h0M622.6 417.5h0M624.9 418.1h0M628.5 419.2h0M631.7 416.4h0M638.5 417.4h0M621.0 419.8h0M622.9 420.5h0M627.4 421.3h0M631.8 420.0h0M632.9 420.5h0M636.2 421.7h0M639.6 421.7h0M623.0 423.7h0M625.5 425.3h0M629.4 423.9h0M637.0 422.9h0M641.6 424.4h0M645.2 423.4h0M624.6 428.0h0M630.5 428.0h0M640.1 426.2h0M643.5 426.8h0M626.3 429.1h0M636.4 429.7h0M638.8 429.6h0M642.1 430.2h0M636.2 432.8h0M640.7 431.3h0M639.3 434.6h0M684.2 419.8h0M681.6 421.1h0M690.9 421.4h0M679.2 424.5h0M686.5 422.8h0M687.9 424.8h0M693.1 423.8h0M676.7 427.5h0M679.7 426.7h0M683.6 426.8h0M685.9 428.3h0M690.0 426.9h0M694.5 427.7h0M675.8 429.5h0M677.9 431.4h0M681.6 431.2h0M684.6 428.7h0M687.3 429.4h0M690.7 430.1h0M694.5 431.2h0M674.5 431.9h0M675.9 434.1h0M680.6 432.2h0M686.6 433.1h0M690.8 433.6h0M694.7 434.2h0M697.3 432.0h0M699.2 431.9h0M702.7 434.4h0M675.5 436.5h0M677.7 436.9h0M683.2 436.5h0M687.6 435.2h0M691.8 435.1h0M696.5 435.0h0M697.7 437.1h0M702.3 436.6h0M705.3 436.7h0M708.4 435.6h0M673.2 438.5h0M677.0 437.6h0M682.8 438.3h0M691.2 439.8h0M694.3 439.2h0M698.0 440.2h0M700.4 438.9h0M703.0 440.2h0M708.3 439.9h0M710.2 438.1h0M713.0 438.5h0M717.1 440.5h0M674.4 443.3h0M677.4 443.4h0M681.8 441.1h0M684.1 441.9h0M689.8 440.9h0M692.2 442.2h0M694.8 443.0h0M698.6 442.8h0M703.4 441.1h0M704.8 443.0h0M709.4 441.5h0M711.3 441.7h0M673.9 444.4h0M675.9 445.7h0M678.8 445.9h0M682.7 445.5h0M686.7 446.0h0M690.2 444.8h0M693.3 446.3h0M696.4 443.9h0M700.8 443.3h0M705.0 446.0h0M707.5 446.0h0M709.9 443.3h0M713.0 443.4h0M716.5 443.6h0M675.4 447.8h0M680.0 447.6h0M682.3 447.5h0M686.8 448.3h0M693.3 447.8h0M694.7 449.0h0M699.0 448.0h0M702.3 447.4h0M705.4 446.6h0M708.9 449.1h0M713.8 446.7h0M716.7 448.2h0M719.5 448.8h0M676.6 451.6h0M680.4 451.5h0M683.9 451.9h0M685.6 450.7h0M690.2 450.6h0M692.4 449.4h0M696.3 450.7h0M701.3 449.7h0M702.6 449.9h0M708.4 451.3h0M712.2 449.9h0M713.0 451.6h0M718.2 450.1h0M721.3 452.1h0M723.3 451.2h0M676.5 454.7h0M677.6 453.2h0M682.5 454.0h0M684.9 453.2h0M687.4 453.1h0M691.3 453.0h0M695.9 452.4h0M699.8 454.8h0M701.3 454.4h0M706.1 454.2h0M709.3 452.6h0M712.8 453.2h0M716.6 453.5h0M719.3 453.9h0M723.8 452.3h0M726.9 452.9h0M673.7 456.6h0M675.4 456.4h0M679.6 456.0h0M682.4 455.1h0M688.4 457.3h0M690.1 456.3h0M694.1 457.4h0M696.2 457.3h0M701.6 458.1h0M702.7 456.3h0M707.9 456.7h0M711.3 457.3h0M713.0 456.9h0M717.5 456.6h0M719.8 455.3h0M723.2 455.2h0M673.6 459.2h0M677.9 458.2h0M682.3 458.0h0M686.6 458.4h0M687.5 460.0h0M691.5 459.1h0M694.6 460.5h0M698.0 460.2h0M703.6 458.4h0M708.3 460.4h0M711.9 459.5h0M714.9 459.7h0M720.3 460.6h0M722.3 461.0h0M677.8 462.0h0M679.1 461.2h0M683.5 463.9h0M686.3 463.8h0M690.2 463.7h0M694.5 463.0h0M698.5 462.6h0M701.2 461.7h0M703.0 461.2h0M707.4 462.9h0M710.1 461.4h0M715.2 463.2h0M719.0 463.7h0M720.6 462.1h0M725.6 462.4h0M682.4 466.3h0M686.0 465.4h0M689.1 464.1h0M691.6 465.2h0M694.3 463.9h0M699.9 466.5h0M700.8 466.9h0M705.9 464.5h0M708.2 464.0h0M712.9 465.7h0M715.7 464.5h0M718.4 465.7h0M724.0 465.3h0M685.9 469.2h0M690.7 468.8h0M694.8 469.1h0M698.4 468.9h0M702.9 467.6h0M708.3 468.0h0M720.7 466.9h0M724.9 467.8h0M691.3 470.3h0M703.7 470.8h0M704.5 471.4h0M708.7 472.2h0M712.8 471.8h0M716.8 470.1h0M723.0 469.9h0M699.6 473.5h0M703.4 473.7h0M711.8 473.2h0M715.4 472.9h0M654.3 428.2h0M664.3 427.8h0M660.5 429.7h0M665.4 430.3h0M667.4 429.2h0M672.3 430.7h0M648.8 431.4h0M655.7 432.3h0M663.7 433.6h0M667.2 432.2h0M671.0 432.3h0M634.5 437.2h0M647.6 435.2h0M648.5 437.3h0M653.5 436.7h0M660.1 435.0h0M669.0 437.6h0M636.9 441.1h0M640.5 439.4h0M650.5 438.3h0M655.1 440.4h0M660.7 438.8h0M663.5 440.3h0M667.6 439.8h0M671.5 440.5h0M643.2 441.5h0M647.1 443.1h0M651.1 443.6h0M654.6 441.0h0M656.8 442.1h0M664.5 442.0h0M638.0 447.2h0M639.3 446.8h0M648.7 446.4h0M651.6 444.2h0M656.8 445.6h0M662.0 445.8h0M665.7 447.3h0M669.4 444.8h0M640.4 449.9h0M643.5 449.6h0M646.8 449.6h0M652.2 448.1h0M655.7 450.4h0M660.2 447.8h0M665.9 450.2h0M667.9 449.0h0M633.5 451.3h0M638.2 453.3h0M640.3 452.0h0M643.8 453.9h0M647.2 453.0h0M651.0 451.9h0M659.6 451.0h0M667.4 451.4h0M634.4 456.8h0M639.2 454.5h0M642.0 454.4h0M645.3 456.6h0M653.3 454.1h0M655.8 454.3h0M660.1 456.5h0M666.3 456.6h0M668.1 454.6h0M672.5 455.1h0M636.7 457.0h0M640.8 458.8h0M643.1 457.4h0M649.1 458.1h0M656.5 459.0h0M666.2 459.4h0M669.2 458.2h0M637.8 461.4h0M646.9 461.7h0M648.5 462.9h0M657.4 463.0h0M669.2 460.5h0M635.9 464.4h0M644.5 463.5h0M649.7 466.6h0M597.5 424.6h0M593.8 427.7h0M597.5 426.6h0M598.9 426.4h0M604.7 426.0h0M609.1 425.7h0M594.3 428.6h0M600.0 428.9h0M601.5 428.8h0M605.2 430.9h0M609.4 429.3h0M614.0 430.0h0M616.6 429.5h0M621.1 431.0h0M622.9 428.5h0M595.3 431.7h0M603.4 432.8h0M606.8 431.7h0M610.1 431.3h0M613.5 432.6h0M619.4 433.2h0M623.9 431.6h0M626.7 432.6h0M629.1 431.9h0M598.6 436.0h0M603.3 437.0h0M605.2 436.8h0M609.0 437.1h0M613.0 434.5h0M621.1 435.8h0M630.7 437.7h0M586.5 440.6h0M594.2 440.4h0M603.8 440.7h0M608.4 438.8h0M612.0 439.5h0M616.2 438.8h0M619.9 439.9h0M621.0 439.7h0M627.8 438.3h0M630.5 439.0h0M582.7 443.9h0M587.5 442.9h0M591.4 442.8h0M596.3 444.1h0M597.0 442.3h0M602.7 442.1h0M616.6 441.1h0M620.1 442.5h0M625.5 444.0h0M631.5 441.6h0M585.9 444.6h0M594.2 444.8h0M597.2 445.1h0M604.2 446.8h0M607.6 447.0h0M611.4 445.0h0M616.0 447.4h0M622.9 446.4h0M626.3 445.9h0M629.7 445.5h0M584.9 449.4h0M591.6 450.0h0M594.9 447.9h0M597.6 447.3h0M602.5 448.6h0M604.4 448.2h0M612.6 448.4h0M620.0 449.5h0M583.3 453.5h0M587.1 452.4h0M595.1 450.8h0M599.8 453.7h0M604.5 453.0h0M611.9 453.8h0M618.7 452.0h0M627.5 451.1h0M631.2 450.9h0M583.7 454.2h0M590.9 455.2h0M610.5 455.0h0M612.6 456.0h0M616.9 453.7h0M624.8 454.4h0M626.9 456.9h0M632.6 454.1h0M586.4 458.2h0M588.7 457.9h0M592.7 457.3h0M595.7 460.0h0M599.6 460.0h0M604.6 459.2h0M612.4 459.6h0M616.2 457.2h0M581.2 461.7h0M582.3 460.5h0M587.3 460.5h0M591.5 461.7h0M595.3 462.5h0M601.3 462.2h0M610.4 461.4h0M621.2 462.1h0M625.5 461.7h0M629.8 460.1h0M587.1 464.5h0M589.8 465.9h0M592.2 466.6h0M598.3 464.7h0M600.7 463.4h0M603.2 464.7h0M610.9 463.7h0M627.2 466.4h0M629.5 463.6h0M587.2 469.3h0M591.4 467.4h0M603.2 468.4h0M609.1 468.4h0M611.7 469.8h0M615.7 467.3h0M560.8 443.3h0M566.7 440.0h0M566.7 457.5h0M567.5 461.7h0M575.0 475.0h0M580.0 471.7h0M562.5 487.5h0M568.3 491.7h0M560.0 496.7h0M540.8 433.3h0M741.5 532.5h0M738.9 533.7h0M744.5 533.8h0M738.1 538.6h0M742.5 537.0h0M744.4 538.3h0M739.6 542.3h0M741.1 542.4h0M744.1 543.0h0M747.8 543.2h0M740.7 546.7h0M744.0 546.1h0M748.0 547.9h0M751.7 547.8h0M740.6 549.3h0M745.8 550.5h0M748.3 549.7h0M753.3 550.2h0M754.7 548.8h0M741.2 554.2h0M743.5 552.7h0M749.2 553.0h0M752.6 552.4h0M757.5 552.7h0M742.6 555.2h0M743.8 556.9h0M749.8 556.0h0M751.8 555.8h0M756.0 557.2h0M758.3 555.6h0M743.2 558.0h0M746.9 558.5h0M749.3 558.2h0M752.5 558.1h0M746.0 562.8h0M749.4 561.5h0M755.2 560.6h0M760.9 561.7h0M747.5 564.2h0M751.3 571.9h0M752.2 572.4h0M754.1 573.6h0M752.6 575.7h0M757.6 575.8h0M758.4 578.7h0M704.8 580.3h0M766.8 578.9h0M770.1 580.9h0M773.0 579.2h0M776.1 579.9h0M781.5 580.9h0M781.9 580.6h0M708.5 583.4h0M752.4 583.7h0M756.6 583.4h0M761.2 582.6h0M763.9 581.6h0M764.8 582.6h0M768.8 583.3h0M771.8 583.6h0M774.6 581.8h0M778.8 583.1h0M781.4 584.2h0M783.6 582.5h0M711.1 586.2h0M750.3 585.0h0M753.6 586.5h0M754.9 585.8h0M757.7 586.1h0M762.4 584.5h0M763.5 584.6h0M766.7 586.9h0M771.7 585.8h0M774.4 586.3h0M776.8 586.1h0M779.0 584.8h0M783.2 584.5h0M748.9 589.3h0M753.7 587.2h0M758.3 588.9h0M760.3 588.2h0M762.7 587.2h0M765.3 587.8h0M768.9 588.4h0M772.5 589.3h0M774.7 589.4h0M779.6 589.5h0M715.2 590.6h0M718.1 591.0h0M720.6 592.0h0M729.2 590.8h0M733.6 592.2h0M737.0 592.1h0M739.3 591.4h0M743.6 591.2h0M746.3 591.2h0M750.2 592.1h0M753.1 591.9h0M755.9 590.3h0M757.1 590.4h0M762.6 591.6h0M764.0 590.3h0M768.5 592.0h0M770.4 590.2h0M774.3 591.8h0M776.4 590.2h0M780.6 590.4h0M782.5 590.5h0M719.1 594.4h0M722.9 592.5h0M724.7 594.8h0M729.2 592.4h0M732.3 592.4h0M735.5 593.6h0M737.8 594.8h0M741.3 593.6h0M744.1 592.5h0M748.0 592.4h0M751.1 592.3h0M755.0 594.9h0M756.5 593.9h0M760.0 594.2h0M763.6 594.0h0M765.7 592.5h0M769.4 593.7h0M773.3 593.7h0M774.4 593.3h0M778.0 594.7h0M724.2 596.3h0M726.8 596.6h0M731.6 596.5h0M733.1 596.4h0M737.2 597.2h0M740.9 596.6h0M742.0 595.0h0M744.8 595.7h0M747.7 596.6h0M751.6 597.5h0M755.6 595.4h0M759.3 596.1h0M760.2 596.9h0M763.6 596.6h0M766.6 595.4h0M772.2 596.2h0M774.5 596.7h0M731.8 598.3h0M738.2 599.1h0M742.3 597.6h0M743.9 598.6h0M748.7 598.1h0M750.3 598.6h0M753.9 600.3h0M757.2 599.0h0M760.1 600.4h0M762.7 597.6h0M765.8 598.9h0M768.1 598.5h0M771.2 597.7h0M774.6 599.7h0M738.6 601.2h0M741.7 601.4h0M745.7 603.0h0M750.4 601.5h0M750.9 601.6h0M755.9 602.1h0M757.7 601.9h0M761.8 600.6h0M764.7 601.3h0M768.7 602.0h0M769.7 602.9h0M773.6 601.1h0M744.2 603.5h0M751.2 604.7h0M753.0 605.3h0M760.3 604.2h0M763.2 604.3h0M720.0 530.0h0M733.3 537.5h0M732.5 555.4h0M735.0 560.0h0M734.2 562.5h0M737.1 566.7h0M762.1 568.3h0M761.7 571.7h0M775.8 570.8h0M786.7 565.8h0M785.8 570.0h0M785.0 568.3h0M725.8 587.1h0M742.1 607.5h0M705.4 579.6h0M555.9 521.5h0M562.2 527.3h0M565.7 525.0h0M566.8 530.8h0M573.8 533.2h0M577.3 536.7h0M580.8 539.0h0M584.3 542.5h0M587.8 546.0h0M590.2 548.3h0M596.0 551.1h0M599.5 553.0h0M586.7 544.1h0M593.2 549.5h0M579.2 537.8h0M285.0 391.0h0M288.5 394.5h0M862.5 363.3h0M910.9 542.0h0M906.4 548.3h0M905.3 551.6h0M904.1 555.0h0M900.8 559.5h0M898.5 564.0h0M896.3 568.5h0M895.8 573.0h0M897.4 587.0h0M901.9 557.3h0M907.5 546.5h0M998.7 623.8h0M1001.9 625.0h0M1008.2 625.2h0M980.6 627.3h0M993.9 629.4h0M998.2 627.8h0M1003.6 628.5h0M1007.9 627.7h0M1010.8 629.3h0M1013.9 627.0h0M981.3 632.4h0M996.5 631.2h0M1002.0 630.0h0M1004.2 631.1h0M1013.5 629.7h0M1015.4 631.1h0M1018.8 630.8h0M979.1 633.2h0M982.6 632.7h0M986.6 635.2h0M988.3 633.3h0M992.6 635.3h0M994.8 634.4h0M1002.4 632.8h0M1005.9 633.6h0M1011.8 634.9h0M1012.5 633.8h0M1016.2 633.0h0M1022.5 634.1h0M1026.4 635.6h0M1037.9 635.5h0M972.9 638.1h0M976.4 636.0h0M980.9 637.5h0M982.4 635.9h0M987.9 638.6h0M991.3 636.5h0M994.7 637.1h0M1000.9 638.1h0M1006.5 638.7h0M1012.5 638.1h0M1018.8 637.5h0M1026.7 638.4h0M1030.2 637.6h0M974.1 641.8h0M977.2 640.1h0M981.6 638.9h0M993.5 640.8h0M995.4 639.1h0M998.1 640.6h0M1003.9 641.5h0M1007.1 641.9h0M1011.1 641.0h0M1013.2 639.2h0M1021.3 641.6h0M1023.9 639.5h0M1027.3 639.1h0M1032.7 641.8h0M1036.3 641.1h0M1042.1 639.7h0M982.4 644.6h0M986.2 642.4h0M990.5 642.0h0M995.9 642.2h0M998.7 644.6h0M1000.3 643.2h0M1011.1 642.3h0M1016.2 644.6h0M1019.9 644.8h0M1025.1 642.9h0M1035.2 642.2h0M1036.6 643.7h0M1041.8 643.4h0M1043.5 643.3h0M1048.9 644.2h0M971.3 645.4h0M978.7 645.3h0M982.6 646.8h0M986.3 647.2h0M989.0 645.4h0M990.9 647.1h0M997.5 646.5h0M1000.9 646.5h0M1002.1 647.6h0M1006.0 645.7h0M1013.7 647.7h0M1017.3 646.3h0M1022.3 647.2h0M1024.7 646.4h0M1027.2 645.3h0M1035.7 646.8h0M1039.1 647.3h0M1043.9 646.3h0M1046.2 647.4h0M1057.1 647.6h0M974.0 648.9h0M980.6 648.5h0M982.4 649.4h0M989.2 648.7h0M993.3 648.4h0M998.9 649.7h0M1002.8 649.6h0M1004.7 649.0h0M1007.3 650.3h0M1012.8 650.7h0M1020.3 650.4h0M1024.5 651.3h0M1026.8 650.1h0M1031.4 650.7h0M1037.3 649.2h0M1040.2 650.2h0M1043.9 650.7h0M978.3 653.4h0M980.1 651.6h0M983.8 653.0h0M994.8 653.8h0M998.3 652.9h0M1002.7 652.4h0M1008.2 653.9h0M1009.6 651.6h0M1015.5 651.7h0M1018.4 652.2h0M1022.6 653.2h0M1024.5 651.8h0M1033.7 652.5h0M1039.0 654.0h0M1044.1 652.9h0M1047.4 653.6h0M1051.3 652.2h0M1052.4 653.2h0M1055.9 653.0h0M972.4 654.8h0M979.9 657.5h0M984.5 654.6h0M987.2 656.3h0M991.4 656.8h0M998.4 655.8h0M1001.2 656.8h0M1005.0 657.0h0M1016.2 657.3h0M1017.9 657.5h0M1022.6 656.1h0M1026.2 655.2h0M1029.2 657.4h0M1032.4 654.5h0M1036.0 656.2h0M1040.9 655.2h0M1044.6 655.7h0M1050.3 656.9h0M1054.5 655.5h0M974.9 659.3h0M977.4 657.8h0M984.2 657.6h0M990.5 658.4h0M993.2 658.6h0M995.1 659.8h0M1000.2 660.2h0M1002.7 658.4h0M1007.6 659.1h0M1015.1 659.9h0M1017.2 658.8h0M1021.2 658.6h0M1026.3 658.1h0M1029.3 659.0h0M1031.1 659.9h0M1036.2 659.0h0M1037.7 657.7h0M1041.9 658.2h0M1047.0 660.3h0M1056.3 659.3h0M1061.9 657.8h0M979.6 662.2h0M983.6 662.0h0M989.6 662.7h0M995.6 661.8h0M998.4 662.1h0M1000.3 663.1h0M1006.5 663.5h0M1013.7 661.3h0M1015.0 663.5h0M1026.6 661.1h0M1036.3 662.0h0M1047.9 662.5h0M1053.1 661.8h0M1055.0 662.2h0M1060.7 663.7h0M971.5 665.7h0M973.6 665.7h0M979.6 664.3h0M981.5 663.8h0M985.5 664.3h0M992.8 664.7h0M994.6 666.8h0M1000.8 665.0h0M1005.9 664.5h0M1011.2 666.7h0M1014.9 664.5h0M1018.8 664.2h0M1020.0 664.6h0M1024.9 665.5h0M1028.5 665.6h0M1036.9 665.5h0M1039.1 666.9h0M1041.4 664.4h0M1049.6 663.7h0M1052.5 663.8h0M1056.3 664.9h0M1059.4 665.2h0M966.2 669.4h0M973.1 669.8h0M976.2 669.9h0M981.1 668.3h0M984.6 668.2h0M988.3 669.0h0M994.2 668.8h0M996.9 669.2h0M1002.6 669.9h0M1003.5 669.2h0M1008.1 669.1h0M1010.8 669.7h0M1019.2 667.4h0M1022.5 669.7h0M1027.6 667.4h0M1029.9 668.9h0M1032.7 669.6h0M1038.7 667.8h0M1043.3 668.2h0M1048.1 669.6h0M1053.0 669.7h0M1055.2 668.2h0M1058.6 669.7h0M1061.9 668.5h0M963.0 673.0h0M967.2 670.1h0M973.2 671.4h0M977.2 670.5h0M982.0 671.7h0M985.6 671.8h0M992.1 672.1h0M996.5 671.8h0M998.2 672.4h0M1001.8 672.4h0M1005.9 672.4h0M1015.4 670.5h0M1017.4 670.1h0M1020.8 670.2h0M1024.7 670.7h0M1027.8 670.7h0M1033.2 671.9h0M1039.5 670.9h0M1042.4 670.1h0M1046.6 670.1h0M1058.6 672.7h0M1059.9 671.1h0M963.2 676.1h0M970.4 673.3h0M971.5 674.8h0M975.3 673.3h0M981.0 676.3h0M985.9 675.9h0M990.3 673.8h0M993.3 674.7h0M998.7 674.5h0M1001.6 675.6h0M1004.6 674.4h0M1023.4 673.9h0M1026.2 673.2h0M1030.7 673.8h0M1033.1 675.5h0M1038.7 673.5h0M1040.3 674.5h0M1046.8 673.2h0M1052.0 673.7h0M1055.6 675.8h0M957.2 676.6h0M964.5 676.6h0M966.7 678.7h0M977.9 678.3h0M980.8 677.9h0M986.7 678.2h0M989.2 678.0h0M993.6 676.4h0M996.0 677.1h0M999.9 676.5h0M1002.3 677.0h0M1007.9 676.7h0M1010.4 676.8h0M1018.1 678.9h0M1024.9 677.3h0M1029.6 678.5h0M1032.4 679.0h0M1040.7 678.0h0M1043.0 676.4h0M1045.5 678.6h0M1049.5 677.2h0M1053.0 676.8h0M1058.8 676.9h0M1060.4 678.6h0M963.3 682.4h0M966.0 682.2h0M968.8 681.7h0M971.3 680.9h0M975.9 681.9h0M980.0 681.9h0M982.3 679.8h0M986.4 681.9h0M989.3 681.7h0M993.3 682.3h0M997.2 679.6h0M1002.0 680.1h0M1006.2 681.0h0M1009.5 681.7h0M1012.5 681.4h0M1016.8 682.4h0M1018.4 682.4h0M1021.5 680.3h0M1028.2 680.1h0M1029.8 681.0h0M1032.6 682.0h0M1038.8 680.4h0M1039.8 681.5h0M1044.4 680.2h0M1048.9 680.7h0M1057.0 679.7h0M1058.8 680.6h0M955.6 682.6h0M961.1 682.6h0M964.4 685.6h0M968.4 684.2h0M973.3 683.5h0M977.9 683.0h0M982.4 685.3h0M986.5 684.3h0M989.1 683.9h0M993.3 683.8h0M999.6 684.7h0M1003.2 685.0h0M1005.6 685.6h0M1010.8 683.2h0M1014.2 683.2h0M1018.7 682.5h0M1022.9 683.1h0M1024.9 682.6h0M1030.5 682.9h0M1034.6 685.4h0M1040.5 685.0h0M1041.9 684.0h0M1045.6 685.3h0M1051.6 682.4h0M1057.9 685.4h0M1060.9 684.1h0M1063.0 682.4h0M955.4 688.5h0M959.8 687.5h0M963.3 685.7h0M963.9 687.3h0M971.1 686.5h0M980.0 687.2h0M983.3 685.8h0M986.1 686.7h0M990.3 687.5h0M994.5 688.6h0M996.6 688.1h0M1004.7 687.9h0M1007.3 688.1h0M1014.6 685.6h0M1020.8 688.4h0M1022.4 687.9h0M1025.5 685.7h0M1030.1 687.3h0M1032.3 688.6h0M1036.6 687.9h0M1042.3 687.1h0M1045.0 687.3h0M1047.2 687.6h0M1050.9 687.1h0M1055.6 686.9h0M1060.3 686.9h0M1062.2 688.5h0M948.1 691.8h0M953.2 691.0h0M956.8 689.6h0M960.1 689.3h0M964.7 690.7h0M965.8 688.8h0M969.4 689.7h0M975.7 688.9h0M978.6 689.4h0M980.3 690.3h0M985.0 690.9h0M988.9 690.8h0M994.0 691.5h0M997.3 689.2h0M998.4 690.9h0M1006.0 688.7h0M1009.7 691.6h0M1012.8 689.2h0M1018.8 690.8h0M1022.3 689.5h0M1024.6 691.7h0M1028.5 689.0h0M1032.6 689.1h0M1036.9 691.2h0M1039.7 689.8h0M1041.9 688.9h0M1045.8 689.3h0M1050.8 691.2h0M1052.2 689.6h0M1058.1 691.7h0M949.8 692.6h0M956.0 694.1h0M961.2 693.2h0M967.8 693.8h0M973.6 691.8h0M977.0 692.1h0M978.8 694.2h0M990.5 693.3h0M994.5 693.4h0M998.3 694.5h0M1003.0 692.9h0M1008.0 692.8h0M1013.6 694.5h0M1016.9 693.8h0M1017.9 692.8h0M1024.0 693.0h0M1025.6 694.5h0M1034.6 694.0h0M1036.8 692.3h0M1044.6 694.3h0M1046.7 692.1h0M1056.7 693.6h0M938.9 696.9h0M943.0 697.5h0M945.5 696.9h0M951.8 696.7h0M956.3 695.0h0M959.8 696.6h0M963.3 697.0h0M966.4 697.1h0M971.3 696.5h0M976.0 697.4h0M976.8 698.1h0M981.5 696.4h0M986.0 696.4h0M992.7 697.0h0M997.0 695.3h0M999.8 697.6h0M1002.6 696.9h0M1006.4 695.4h0M1009.5 696.3h0M1013.9 697.7h0M1020.1 698.0h0M1024.7 697.2h0M1028.4 696.5h0M1035.0 695.8h0M1037.9 695.8h0M1045.8 695.8h0M1049.0 695.6h0M1057.5 697.8h0M898.5 700.5h0M901.7 699.5h0M937.5 699.1h0M943.5 700.4h0M947.6 699.5h0M950.5 698.2h0M953.3 699.4h0M959.8 700.8h0M962.1 699.0h0M968.3 698.3h0M973.3 699.8h0M975.8 701.0h0M983.8 698.3h0M987.4 699.4h0M990.1 700.5h0M994.9 700.4h0M1001.4 698.5h0M1005.4 698.0h0M1008.8 698.5h0M1013.7 700.7h0M1015.2 698.6h0M1024.3 698.5h0M1025.4 700.2h0M1029.4 700.7h0M1037.8 700.1h0M1039.9 700.0h0M1053.2 699.1h0M1056.1 700.7h0M896.7 704.2h0M899.9 702.3h0M905.3 703.5h0M926.1 702.8h0M938.2 702.7h0M949.4 702.7h0M956.3 701.4h0M967.7 701.3h0M969.8 702.5h0M975.7 701.2h0M979.6 703.5h0M981.9 702.9h0M985.9 703.9h0M991.8 702.8h0M996.4 703.2h0M999.5 702.6h0M1003.4 701.9h0M1005.9 702.8h0M1015.4 703.4h0M1018.0 702.8h0M1024.5 701.9h0M1027.0 701.5h0M1035.2 703.1h0M1038.2 702.7h0M1043.2 701.5h0M1045.6 702.8h0M1058.0 702.4h0M901.9 704.9h0M914.6 706.9h0M922.1 706.0h0M929.2 706.4h0M932.8 706.9h0M938.2 706.1h0M942.3 704.6h0M945.9 706.5h0M951.6 707.0h0M953.2 706.3h0M956.9 705.5h0M965.1 706.3h0M969.8 705.6h0M972.4 704.8h0M977.3 705.3h0M980.5 704.9h0M985.5 707.2h0M991.5 705.7h0M992.7 707.0h0M997.6 707.2h0M1003.1 707.3h0M1009.8 704.3h0M1015.0 707.1h0M1018.3 707.3h0M1023.0 707.0h0M1025.8 706.4h0M1034.1 704.4h0M1041.1 704.7h0M1043.2 705.6h0M1047.6 706.1h0M1051.6 705.7h0M1056.2 705.9h0M1058.6 704.6h0M895.2 709.1h0M897.5 710.3h0M904.1 707.4h0M904.6 708.2h0M910.8 709.1h0M913.1 707.7h0M931.8 709.8h0M934.4 710.0h0M939.4 708.1h0M942.4 708.8h0M946.7 709.1h0M954.2 709.6h0M956.1 709.1h0M959.9 709.5h0M970.6 709.8h0M975.1 709.5h0M982.1 709.1h0M984.2 709.9h0M989.1 707.5h0M991.7 707.6h0M1000.0 710.2h0M1004.6 708.5h0M1006.6 707.4h0M1012.9 710.4h0M1019.7 708.0h0M1026.0 707.4h0M1026.9 709.2h0M1030.5 710.2h0M1037.3 708.4h0M1042.7 710.4h0M1046.0 709.8h0M1049.1 709.3h0M1055.2 709.5h0M905.7 711.7h0M907.9 711.9h0M911.0 712.9h0M920.2 711.0h0M921.8 711.1h0M925.7 710.7h0M928.8 711.3h0M934.7 713.2h0M939.8 710.7h0M944.8 712.8h0M951.0 712.9h0M955.1 712.9h0M964.5 711.9h0M969.2 712.6h0M975.5 711.8h0M979.0 711.5h0M983.1 713.6h0M987.5 711.6h0M989.4 711.4h0M992.9 712.2h0M999.4 712.6h0M1003.0 711.8h0M1004.3 710.9h0M1007.7 713.0h0M1016.1 713.1h0M1020.8 712.2h0M1024.4 711.2h0M1029.1 711.7h0M1035.3 713.5h0M1037.8 712.1h0M1041.3 712.4h0M1045.5 711.9h0M1048.3 710.9h0M1052.8 711.5h0M907.6 716.0h0M908.1 716.3h0M913.9 714.4h0M917.3 715.9h0M921.3 715.1h0M924.3 715.4h0M927.3 714.3h0M929.8 714.3h0M935.1 714.4h0M939.6 716.3h0M943.7 715.1h0M944.7 716.4h0M948.8 716.5h0M956.5 714.1h0M964.9 715.9h0M968.1 714.2h0M974.8 716.5h0M978.2 715.5h0M983.7 715.4h0M992.2 716.4h0M997.5 714.3h0M1000.2 715.6h0M1010.3 713.7h0M1014.9 714.3h0M1017.7 716.3h0M1022.7 713.7h0M1023.6 713.9h0M1028.6 716.0h0M1032.4 715.9h0M1034.7 714.9h0M1038.5 714.4h0M1043.2 714.0h0M1046.2 716.2h0M1048.6 716.1h0M1055.9 715.0h0M900.1 717.0h0M904.4 718.4h0M906.8 719.4h0M912.3 719.7h0M915.1 718.3h0M923.1 718.7h0M926.3 719.7h0M928.4 719.0h0M933.2 718.7h0M935.5 717.8h0M939.9 718.9h0M945.1 717.1h0M946.6 719.9h0M950.9 717.1h0M956.2 719.1h0M957.5 716.9h0M965.2 718.9h0M969.9 718.3h0M972.2 719.7h0M977.5 719.9h0M980.4 718.9h0M984.9 719.2h0M987.1 717.1h0M989.2 719.3h0M994.9 719.4h0M1004.3 717.5h0M1008.2 717.2h0M1011.1 717.3h0M1016.2 718.5h0M1019.2 719.9h0M1022.2 717.6h0M1029.2 719.9h0M1038.8 719.2h0M1045.2 718.2h0M1049.1 719.8h0M1050.9 719.1h0M913.2 722.1h0M916.0 722.6h0M920.3 720.2h0M928.7 722.7h0M930.4 720.4h0M933.3 720.4h0M937.9 721.3h0M942.0 720.4h0M946.9 723.0h0M950.3 720.2h0M954.0 721.3h0M955.1 722.8h0M962.8 720.4h0M965.9 722.1h0M972.4 721.5h0M973.0 720.7h0M980.3 720.7h0M984.5 720.3h0M990.4 722.6h0M993.4 722.0h0M995.9 721.3h0M1007.9 721.3h0M1009.3 722.3h0M1018.9 721.8h0M1020.6 722.0h0M1026.0 720.7h0M1028.8 721.1h0M1035.5 722.6h0M1037.7 722.1h0M1041.3 722.9h0M1048.0 720.0h0M1051.2 720.4h0M904.2 723.2h0M908.1 724.9h0M916.4 725.6h0M919.6 724.9h0M921.7 726.0h0M930.8 725.3h0M934.3 726.0h0M941.8 725.2h0M942.6 725.2h0M948.7 725.4h0M958.6 724.2h0M960.7 724.6h0M966.0 724.1h0M973.8 725.4h0M975.4 724.8h0M983.4 723.9h0M988.0 724.1h0M990.2 725.7h0M997.0 725.9h0M1001.9 725.5h0M1006.5 723.0h0M1007.7 722.9h0M1011.5 723.3h0M1017.0 725.1h0M1022.1 723.7h0M1027.0 725.3h0M1030.1 724.0h0M1035.4 724.9h0M1037.4 725.9h0M1040.5 723.6h0M1044.6 725.9h0M1046.7 725.4h0M903.8 727.6h0M906.9 727.3h0M909.9 726.7h0M913.0 729.2h0M919.9 728.3h0M924.9 728.7h0M928.2 726.1h0M939.9 728.6h0M942.6 728.7h0M945.8 727.3h0M952.9 727.5h0M957.9 729.0h0M960.8 727.4h0M962.1 727.6h0M966.7 726.3h0M970.3 727.7h0M973.0 728.6h0M977.9 727.8h0M980.4 728.1h0M985.9 726.5h0M989.2 727.7h0M991.0 726.2h0M995.5 728.3h0M1003.9 728.8h0M1007.0 728.3h0M1014.3 726.2h0M1016.8 726.7h0M1019.6 728.0h0M1024.3 728.1h0M1029.3 726.6h0M1030.7 726.3h0M1043.7 728.4h0M1046.0 727.7h0M909.0 729.7h0M909.9 730.5h0M916.5 729.7h0M924.8 730.2h0M930.5 731.9h0M932.0 731.9h0M937.0 730.6h0M945.3 731.4h0M947.2 732.1h0M950.0 729.7h0M953.2 731.0h0M957.3 730.8h0M963.5 730.7h0M966.6 730.2h0M968.8 731.4h0M971.1 729.5h0M976.2 731.5h0M978.9 729.9h0M984.3 729.6h0M988.4 730.3h0M989.3 729.4h0M994.4 729.7h0M996.4 731.9h0M1000.1 729.8h0M1006.0 732.0h0M1009.9 731.0h0M1012.8 731.1h0M1017.3 730.9h0M1018.9 731.4h0M1022.4 730.9h0M1029.5 732.2h0M1033.8 729.6h0M1036.8 729.2h0M1042.3 732.3h0M906.9 735.0h0M917.7 734.6h0M921.1 734.1h0M928.2 733.7h0M931.2 734.7h0M940.9 733.0h0M946.4 735.3h0M950.2 733.6h0M956.3 735.2h0M960.6 735.3h0M971.9 734.2h0M975.2 732.5h0M978.3 735.3h0M980.2 734.3h0M984.4 732.4h0M987.7 734.7h0M992.0 735.1h0M999.3 734.8h0M1004.8 732.7h0M1008.2 735.4h0M1015.3 735.2h0M1020.5 735.1h0M1024.4 732.5h0M1028.2 732.5h0M1032.4 733.8h0M1040.6 732.7h0M1041.4 732.5h0M1049.5 734.3h0M910.7 735.7h0M916.5 738.4h0M917.6 736.4h0M921.5 737.9h0M929.5 735.5h0M935.9 736.2h0M946.0 736.8h0M950.4 736.0h0M960.7 736.8h0M966.4 735.9h0M971.5 736.4h0M975.7 738.6h0M980.2 738.3h0M984.5 735.8h0M987.7 736.4h0M990.4 735.8h0M993.1 735.9h0M998.4 735.8h0M1006.3 738.2h0M1009.2 738.6h0M1011.3 737.4h0M1014.3 736.5h0M1018.0 736.7h0M1022.9 737.6h0M1026.3 736.0h0M1029.7 736.6h0M1033.6 738.5h0M1038.9 738.5h0M1041.3 736.6h0M1047.1 738.0h0M905.5 739.2h0M910.9 740.7h0M912.0 740.6h0M915.3 740.0h0M919.0 740.1h0M927.2 739.5h0M932.3 740.0h0M935.0 740.5h0M936.9 740.4h0M942.0 739.4h0M948.8 739.4h0M952.9 741.2h0M957.6 741.5h0M961.6 738.6h0M964.6 739.9h0M967.7 739.5h0M972.4 739.3h0M973.5 741.4h0M978.3 739.0h0M983.1 739.7h0M985.0 739.0h0M991.2 740.3h0M996.7 741.5h0M1000.1 739.6h0M1003.4 738.7h0M1007.5 741.6h0M1013.9 739.0h0M1027.2 739.7h0M1032.0 739.3h0M1035.9 740.7h0M1040.6 739.7h0M907.4 742.1h0M910.5 744.7h0M925.9 742.6h0M931.8 742.3h0M936.6 742.0h0M939.4 741.8h0M945.2 744.2h0M947.2 743.5h0M949.7 744.6h0M963.1 741.9h0M964.2 742.3h0M974.0 743.6h0M977.1 743.5h0M979.5 742.1h0M982.2 743.9h0M987.0 743.4h0M991.3 742.7h0M997.4 742.8h0M1003.0 742.2h0M1007.3 742.8h0M1011.2 742.3h0M1015.3 743.1h0M1025.1 743.3h0M1031.4 742.2h0M1035.1 743.1h0M912.0 746.1h0M917.7 744.8h0M920.2 746.2h0M925.3 746.8h0M929.0 747.7h0M931.9 747.1h0M935.4 746.9h0M938.2 747.9h0M942.5 747.5h0M944.5 745.7h0M951.8 747.8h0M959.7 747.0h0M962.9 746.9h0M966.5 746.7h0M970.9 745.3h0M973.9 745.9h0M982.2 747.5h0M993.7 747.8h0M997.4 747.6h0M1001.2 746.0h0M1004.6 747.9h0M1010.1 745.5h0M1013.2 746.8h0M1025.2 747.1h0M1028.2 745.1h0M912.6 748.6h0M916.6 750.4h0M917.4 750.7h0M923.4 749.1h0M925.5 748.3h0M930.2 749.7h0M933.9 751.0h0M937.1 751.0h0M940.7 748.7h0M942.6 749.6h0M946.5 750.8h0M950.8 748.1h0M953.6 748.9h0M959.2 749.7h0M965.1 748.1h0M968.1 750.3h0M973.5 748.6h0M977.9 749.2h0M978.6 749.3h0M987.0 750.7h0M990.7 750.8h0M993.9 747.9h0M998.9 749.2h0M1002.7 750.9h0M1006.6 749.7h0M1008.0 750.4h0M1012.7 750.3h0M1017.3 748.6h0M1022.0 748.0h0M1030.6 749.6h0M1035.4 749.4h0M911.1 753.6h0M912.9 751.7h0M916.3 753.1h0M921.3 752.6h0M925.2 752.6h0M926.4 752.4h0M931.9 753.6h0M936.1 753.2h0M938.2 751.1h0M942.6 752.7h0M944.4 752.1h0M949.2 751.2h0M954.1 754.1h0M961.2 752.5h0M966.2 752.9h0M974.3 752.8h0M980.3 753.0h0M985.6 753.5h0M990.4 752.3h0M993.7 753.2h0M997.2 751.2h0M1000.3 754.0h0M1003.8 754.2h0M1008.9 752.4h0M1015.5 751.7h0M1018.7 753.9h0M1022.6 753.2h0M1027.4 751.6h0M1033.0 752.3h0M911.2 754.3h0M914.8 755.1h0M919.7 756.7h0M921.8 754.1h0M930.4 754.9h0M933.2 756.7h0M943.1 756.5h0M947.5 754.4h0M952.5 754.4h0M955.6 755.9h0M962.0 755.9h0M964.5 754.1h0M970.0 754.9h0M976.2 757.3h0M978.3 754.8h0M983.2 754.8h0M986.1 754.6h0M993.7 756.3h0M998.1 756.4h0M1006.2 755.9h0M1008.4 754.4h0M1011.9 756.0h0M1014.8 755.6h0M1019.6 756.1h0M1023.3 754.7h0M1031.4 755.7h0M917.8 760.1h0M919.5 759.4h0M923.3 759.1h0M929.0 758.2h0M930.2 758.0h0M935.7 759.1h0M946.6 758.7h0M950.2 757.3h0M953.7 757.4h0M955.6 759.7h0M965.7 758.3h0M971.0 758.6h0M973.9 759.0h0M978.8 757.7h0M985.5 758.6h0M987.8 758.6h0M992.1 757.5h0M997.1 758.6h0M1001.0 758.3h0M1001.7 759.3h0M1006.4 759.1h0M1009.2 759.4h0M1017.8 758.5h0M1029.3 760.1h0M910.9 761.5h0M916.7 763.4h0M919.5 762.2h0M921.7 762.8h0M926.5 762.4h0M930.1 761.3h0M932.8 762.4h0M936.7 762.9h0M939.5 762.3h0M942.7 762.9h0M946.9 763.2h0M955.1 762.9h0M959.6 763.2h0M961.7 763.0h0M966.9 761.7h0M967.5 761.7h0M973.9 762.3h0M977.8 762.0h0M988.5 761.0h0M989.4 761.4h0M993.0 761.3h0M997.3 761.6h0M1000.7 763.1h0M1004.8 761.6h0M1009.6 761.7h0M1013.2 762.7h0M1016.4 760.9h0M1020.0 763.0h0M1021.8 760.5h0M1025.8 760.8h0M914.0 765.1h0M917.8 763.5h0M919.9 764.4h0M925.0 763.5h0M928.7 764.3h0M932.3 765.9h0M941.0 766.5h0M946.8 766.2h0M948.8 764.9h0M956.2 763.8h0M959.4 766.6h0M962.9 764.1h0M967.2 765.5h0M982.1 764.3h0M985.9 763.6h0M989.0 764.9h0M991.8 763.6h0M994.6 765.1h0M1004.8 765.8h0M1007.2 765.0h0M1013.9 766.4h0M1018.9 763.9h0M1025.6 764.8h0M910.4 767.5h0M916.6 767.5h0M918.8 767.6h0M923.5 768.1h0M925.9 769.2h0M929.4 768.0h0M932.0 768.1h0M937.0 767.9h0M938.7 767.6h0M942.4 768.1h0M947.6 768.2h0M957.5 767.6h0M962.8 767.1h0M966.8 768.0h0M976.0 769.6h0M981.4 766.7h0M983.3 767.8h0M986.5 766.8h0M997.4 768.2h0M1006.4 769.1h0M1008.5 767.1h0M1016.1 767.6h0M910.2 771.2h0M914.2 770.6h0M915.8 771.4h0M919.4 772.3h0M925.3 770.6h0M926.9 771.4h0M934.4 770.1h0M945.7 772.3h0M950.2 771.0h0M956.4 772.4h0M961.1 771.6h0M962.5 771.8h0M965.8 771.3h0M971.0 770.5h0M978.6 771.6h0M981.2 770.9h0M985.1 771.6h0M992.6 771.8h0M997.6 770.9h0M1003.6 772.1h0M1008.1 771.0h0M1010.6 769.9h0M911.0 774.1h0M918.2 774.6h0M929.3 775.7h0M933.6 772.9h0M936.9 773.4h0M945.3 774.9h0M947.6 773.1h0M952.2 775.1h0M954.7 773.0h0M958.1 775.5h0M962.6 773.8h0M965.0 773.1h0M976.4 773.8h0M985.9 775.0h0M994.4 773.1h0M997.3 773.8h0M1007.3 773.8h0M915.3 778.7h0M919.9 777.2h0M932.2 777.9h0M934.5 776.5h0M939.2 777.8h0M946.6 777.9h0M949.4 778.9h0M952.6 777.8h0M956.5 778.6h0M964.5 777.8h0M966.9 776.1h0M972.2 778.2h0M981.4 776.1h0M986.7 777.3h0M989.2 777.1h0M917.4 779.9h0M935.4 779.6h0M944.1 782.1h0M948.9 779.5h0M951.6 781.4h0M953.9 782.3h0M958.5 780.8h0M962.3 781.1h0M966.7 779.8h0M984.9 780.4h0M916.7 784.0h0M919.6 784.3h0M928.1 782.6h0M932.1 782.9h0M938.3 783.7h0M942.0 783.2h0M977.8 782.6h0M967.6 637.0h0M969.9 635.8h0M970.1 638.8h0M967.6 642.7h0M966.2 652.0h0M969.7 651.8h0M968.7 655.4h0M961.8 660.4h0M967.6 659.7h0M962.7 662.2h0M957.7 664.7h0M961.7 667.0h0M957.2 669.2h0M957.9 668.4h0M948.6 672.2h0M956.0 671.6h0M946.5 674.6h0M951.6 675.6h0M947.5 679.5h0M940.0 681.7h0M948.3 682.6h0M939.9 685.1h0M940.3 687.8h0M939.8 691.2h0M937.0 694.8h0M927.5 699.2h0M930.2 700.1h0M926.5 702.1h0M601.6 644.6h0M599.7 647.4h0M601.7 645.8h0M604.5 646.9h0M607.9 645.8h0M614.8 647.2h0M598.2 649.0h0M600.7 648.1h0M603.6 649.0h0M608.7 648.7h0M609.6 648.8h0M616.5 648.4h0M625.6 650.5h0M627.7 650.4h0M602.3 653.3h0M606.7 650.7h0M608.8 652.2h0M614.5 652.7h0M619.9 651.6h0M623.2 651.7h0M626.5 652.2h0M604.8 655.8h0M608.8 655.2h0M611.2 654.8h0M613.5 654.4h0M619.1 653.7h0M620.6 654.8h0M627.9 656.1h0M642.9 655.9h0M601.6 659.1h0M606.8 656.5h0M608.6 656.6h0M612.5 658.4h0M617.1 657.1h0M620.8 658.5h0M622.9 656.6h0M625.3 659.2h0M628.1 657.7h0M635.3 659.0h0M640.0 659.1h0M646.0 656.7h0M603.0 660.4h0M608.5 659.7h0M615.2 661.2h0M620.7 659.9h0M624.4 662.0h0M627.8 660.4h0M633.9 661.2h0M639.2 660.9h0M641.7 662.4h0M645.5 660.3h0M647.6 661.8h0M651.7 660.0h0M603.1 663.3h0M605.7 664.9h0M610.0 662.5h0M611.1 663.1h0M616.9 665.2h0M618.7 664.1h0M623.5 663.1h0M626.4 664.8h0M630.5 665.0h0M631.6 664.8h0M635.4 664.4h0M643.8 664.4h0M646.5 665.0h0M594.6 666.9h0M596.2 667.7h0M604.5 666.0h0M607.0 667.8h0M611.9 665.5h0M621.9 667.7h0M624.2 667.6h0M628.0 665.5h0M631.8 665.5h0M634.3 665.8h0M638.4 667.2h0M640.4 665.7h0M643.8 665.5h0M649.8 667.7h0M594.9 670.6h0M601.3 669.8h0M605.7 670.3h0M609.6 670.9h0M612.1 669.4h0M617.2 670.1h0M619.9 669.7h0M623.8 669.5h0M624.9 671.1h0M630.6 670.9h0M632.8 669.6h0M636.9 670.5h0M639.7 670.5h0M643.9 670.3h0M645.7 670.4h0M649.1 670.9h0M600.7 672.2h0M603.6 671.8h0M607.7 671.3h0M610.8 672.8h0M614.1 672.9h0M618.2 671.7h0M621.9 671.9h0M623.1 672.6h0M629.4 673.4h0M632.2 672.3h0M634.5 673.6h0M637.5 671.6h0M640.8 673.2h0M643.5 672.0h0M649.4 674.1h0M600.1 676.3h0M601.5 675.5h0M605.5 675.3h0M609.0 676.9h0M612.6 674.4h0M616.8 674.4h0M618.7 677.1h0M623.4 676.1h0M624.8 676.5h0M628.6 674.5h0M634.1 674.9h0M637.6 676.7h0M641.0 675.5h0M643.2 675.1h0M646.1 676.7h0M649.7 675.5h0M601.1 677.5h0M603.0 679.3h0M608.7 677.6h0M612.2 679.2h0M614.7 677.9h0M619.0 679.8h0M620.4 678.6h0M628.4 677.5h0M630.3 679.4h0M634.3 677.5h0M641.9 678.5h0M645.0 677.5h0M648.0 677.5h0M595.4 681.5h0M600.3 680.9h0M602.1 682.6h0M604.8 680.5h0M610.7 682.3h0M611.8 682.2h0M616.4 680.4h0M618.4 680.7h0M622.1 681.8h0M626.7 680.7h0M629.1 683.0h0M631.6 682.3h0M635.9 683.0h0M643.3 682.5h0M645.5 683.0h0M648.6 682.0h0M656.6 682.4h0M599.6 683.0h0M607.1 683.6h0M612.2 683.5h0M612.9 684.3h0M618.9 685.8h0M622.6 685.7h0M627.0 683.5h0M635.0 683.5h0M636.7 684.9h0M641.5 685.1h0M645.9 685.8h0M649.5 684.7h0M656.4 683.6h0M599.3 688.7h0M601.1 687.1h0M605.1 688.0h0M610.5 688.7h0M615.3 687.1h0M618.8 687.8h0M622.9 685.9h0M626.0 688.3h0M628.3 688.9h0M633.6 687.1h0M639.1 686.4h0M641.9 686.0h0M646.1 688.7h0M648.7 687.0h0M653.4 688.8h0M597.6 689.9h0M599.5 689.9h0M602.8 689.1h0M608.6 691.4h0M609.5 690.4h0M614.0 689.1h0M617.0 691.0h0M620.5 689.3h0M625.2 690.8h0M629.2 689.4h0M632.7 691.2h0M633.7 689.1h0M639.2 690.9h0M656.4 689.6h0M605.3 694.3h0M607.9 692.9h0M614.0 694.7h0M615.2 694.6h0M620.0 694.1h0M623.0 692.4h0M625.6 692.3h0M630.3 692.1h0M634.4 692.8h0M636.7 694.5h0M639.9 692.6h0M601.3 695.8h0M604.2 696.6h0M608.8 696.5h0M609.5 696.2h0M613.1 697.5h0M617.9 697.3h0M620.2 697.5h0M623.1 696.2h0M626.9 695.7h0M630.9 696.4h0M598.1 699.0h0M601.3 699.9h0M610.2 698.4h0M612.5 698.0h0M615.5 697.9h0M619.5 698.0h0M621.7 697.8h0M626.8 698.3h0M631.0 700.5h0M633.6 699.2h0M636.0 699.3h0M608.8 701.2h0M613.0 701.7h0M619.9 702.1h0M623.9 702.2h0M626.4 702.4h0M630.7 701.6h0M636.0 703.0h0M638.2 703.0h0M628.2 706.2h0M634.0 704.3h0M635.1 704.3h0M640.9 705.7h0M642.1 704.6h0M635.8 706.9h0M641.9 707.0h0M657.4 698.3h0M660.2 697.4h0M666.6 693.7h0M671.2 702.9h0M674.0 706.5h0M676.7 711.1h0M676.7 717.5h0M675.8 721.2h0M673.0 722.1h0M680.4 734.0h0M664.8 716.2h0M658.4 712.0h0M657.4 706.5h0M651.9 709.3h0M645.5 706.5h0M670.3 701.0h0M677.6 720.3h0M674.4 727.6h0M596.0 720.3h0M596.0 722.1h0M548.8 762.6h0M573.5 764.0h0M578.1 764.3h0M545.1 765.3h0M551.0 765.2h0M554.3 767.7h0M556.9 767.4h0M565.8 767.7h0M567.3 766.7h0M570.2 766.9h0M574.9 765.3h0M540.7 768.7h0M544.4 768.3h0M547.7 768.2h0M553.2 768.5h0M556.2 767.9h0M558.1 769.4h0M563.6 770.5h0M566.0 770.5h0M569.6 769.1h0M574.8 768.4h0M575.6 769.5h0M542.9 771.2h0M547.9 772.2h0M549.8 773.0h0M554.5 771.5h0M557.6 772.8h0M562.2 773.7h0M563.5 771.9h0M571.4 772.5h0M575.4 772.6h0M577.8 773.4h0M542.3 775.2h0M546.1 775.1h0M547.8 777.0h0M553.2 777.0h0M555.2 776.1h0M557.7 774.0h0M564.2 774.7h0M567.4 777.1h0M570.3 775.5h0M572.1 775.8h0M547.0 780.3h0M555.2 778.9h0M556.9 778.5h0M561.2 778.7h0M563.5 779.8h0M566.4 779.8h0M570.7 779.7h0M555.8 781.7h0M563.2 780.9h0M566.9 780.4h0M570.5 782.6h0M563.7 784.1h0M567.7 783.5h0M581.7 745.4h0M583.8 742.5h0M571.7 758.3h0M577.9 756.7h0M577.5 761.2h0M573.3 764.2h0M600.8 777.9h0M608.3 782.5h0M610.8 785.0h0M612.9 777.9h0M610.0 780.0h0M552.1 794.2h0M725.5 722.7h0M729.0 717.7h0M736.1 717.0h0M792.8 785.0h0M808.4 785.0h0M807.6 797.0h0M811.9 796.3h0M799.9 780.7h0M750.3 792.8h0M752.4 793.5h0M746.7 796.3h0M745.3 799.9h0M709.5 839.5h0M729.0 839.4h0M714.5 841.4h0M720.6 841.6h0M723.6 840.7h0M732.4 841.3h0M735.9 840.2h0M742.2 841.8h0M699.9 844.1h0M706.4 843.8h0M711.3 842.6h0M715.2 843.6h0M720.9 843.9h0M724.1 844.7h0M725.2 844.9h0M731.1 844.5h0M731.7 844.0h0M737.5 842.8h0M700.1 847.8h0M714.2 846.1h0M716.8 847.3h0M720.7 847.3h0M732.5 847.3h0M736.8 845.7h0M698.0 849.8h0M699.5 849.4h0M703.7 849.7h0M707.0 848.1h0M709.6 849.2h0M714.5 849.4h0M720.4 849.4h0M724.4 850.0h0M727.5 849.4h0M730.1 848.5h0M733.2 849.8h0M739.3 849.1h0M708.9 852.5h0M711.3 850.9h0M714.2 852.9h0M724.9 852.8h0M727.4 852.7h0M731.9 852.0h0M736.6 853.2h0M739.9 851.9h0M699.0 855.4h0M706.0 854.5h0M710.8 855.3h0M713.3 853.8h0M722.9 854.6h0M728.4 854.8h0M731.7 856.5h0M740.4 854.0h0M700.5 856.6h0M705.7 858.1h0M708.7 858.8h0M711.5 858.5h0M714.9 856.7h0M722.6 858.0h0M723.6 857.5h0M710.6 859.6h0M717.7 861.4h0M723.6 860.3h0M729.3 859.7h0M710.0 862.7h0M714.8 863.0h0M704.0 830.0h0M711.3 836.0h0M604.2 844.2h0M610.5 839.2h0M612.0 841.3h0M607.0 847.7h0M611.2 851.2h0M614.8 861.9h0M616.9 866.8h0M619.0 871.8h0M622.6 879.6h0M624.0 892.3h0M627.5 890.9h0M629.7 893.7h0M626.8 898.0h0M628.2 903.7h0M627.5 907.2h0M631.1 906.5h0M638.2 906.5h0M638.9 910.7h0M632.5 913.6h0M636.7 920.7h0M632.5 927.7h0M613.4 910.5h0M658.7 916.4h0M662.9 918.5h0M682.1 926.0h0M687.7 927.7h0M699.1 932.0h0M703.3 934.8h0M711.8 933.4h0M717.5 933.4h0M724.6 937.6h0M727.4 941.9h0M723.1 944.7h0M713.2 949.0h0M714.6 951.8h0M655.2 978.7h0M660.8 985.1h0M629.7 900.8h0M635.3 915.0h0M624.7 886.7h0M625.4 895.2h0M336.9 720.2h0M339.3 720.5h0M346.9 720.4h0M335.7 721.7h0M342.8 722.3h0M347.2 724.4h0M356.2 722.8h0M326.4 726.0h0M336.3 726.3h0M344.6 725.9h0M351.6 726.7h0M354.1 727.5h0M358.1 725.4h0M361.1 726.0h0M329.2 729.5h0M331.0 728.8h0M336.1 730.2h0M338.1 728.1h0M345.1 730.0h0M347.2 728.3h0M355.7 729.7h0M326.4 733.5h0M342.6 730.5h0M347.2 732.3h0M349.7 731.8h0M352.9 730.7h0M357.5 733.3h0M359.1 730.6h0M322.5 735.3h0M323.4 736.1h0M328.5 734.0h0M335.6 734.8h0M338.7 735.5h0M342.9 736.1h0M346.3 735.9h0M351.1 734.9h0M354.8 734.7h0M359.5 736.5h0M325.1 736.6h0M333.8 738.6h0M335.3 737.5h0M339.5 738.9h0M342.4 738.3h0M346.2 738.7h0M349.5 736.4h0M357.8 739.2h0M359.4 736.7h0M331.3 740.9h0M334.8 740.5h0M341.4 741.6h0M345.8 740.7h0M349.1 739.4h0M359.3 740.9h0M361.0 740.3h0M364.4 740.9h0M320.6 742.4h0M321.7 744.5h0M327.4 743.1h0M330.0 744.2h0M333.9 742.7h0M344.5 744.2h0M345.9 742.8h0M358.5 742.4h0M360.7 744.7h0M364.6 745.3h0M322.6 748.2h0M328.6 745.7h0M331.9 746.3h0M338.1 747.3h0M340.7 746.9h0M344.4 747.1h0M349.3 746.7h0M350.7 745.9h0M356.2 746.7h0M365.9 746.3h0M372.7 747.2h0M316.4 750.8h0M329.5 748.9h0M337.6 748.7h0M339.3 749.9h0M345.4 748.6h0M351.4 749.7h0M354.5 750.3h0M356.5 750.6h0M362.6 749.5h0M368.1 750.4h0M370.6 750.6h0M316.7 752.9h0M322.7 751.7h0M341.1 752.1h0M348.2 754.0h0M351.2 751.3h0M359.6 754.1h0M361.9 753.2h0M368.2 754.1h0M322.1 757.0h0M325.3 754.2h0M331.2 757.0h0M339.3 754.2h0M347.9 756.1h0M352.5 754.8h0M355.9 755.0h0M361.1 757.0h0M363.1 756.6h0M368.5 754.4h0M319.9 758.0h0M324.1 759.0h0M328.4 757.9h0M331.8 757.1h0M336.3 759.7h0M339.6 757.2h0M343.2 759.3h0M347.1 757.1h0M356.8 758.0h0M359.6 757.4h0M361.5 758.6h0M368.2 759.8h0M322.5 760.3h0M326.9 761.2h0M343.2 760.5h0M358.0 762.9h0M363.4 762.3h0M319.2 763.8h0M321.9 764.9h0M325.4 763.0h0M326.9 765.1h0M333.0 764.2h0M339.3 764.0h0M341.7 763.3h0M348.9 763.6h0M352.9 763.7h0M359.7 763.3h0M370.0 764.5h0M371.9 764.7h0M318.9 766.1h0M330.9 768.6h0M340.1 767.9h0M344.8 766.4h0M347.9 768.0h0M356.9 766.8h0M359.4 767.9h0M364.5 767.2h0M368.3 768.7h0M370.2 765.9h0M373.4 767.1h0M322.3 769.0h0M323.9 769.2h0M329.5 770.4h0M335.9 769.4h0M344.9 770.0h0M347.2 770.2h0M356.5 769.4h0M357.5 769.7h0M364.6 771.7h0M369.0 770.4h0M371.9 770.4h0M375.3 770.5h0M317.5 773.0h0M323.0 772.0h0M334.1 771.9h0M336.0 772.0h0M339.4 774.6h0M343.7 774.6h0M355.5 774.3h0M371.9 773.0h0M378.6 771.9h0M381.6 773.3h0M313.6 777.0h0M321.9 777.7h0M323.9 775.3h0M327.0 776.4h0M332.5 777.1h0M334.0 775.8h0M337.8 775.0h0M346.0 777.6h0M350.9 774.8h0M362.6 776.3h0M365.6 775.4h0M371.2 775.3h0M378.8 775.8h0M381.2 774.7h0M320.3 778.6h0M322.1 780.6h0M327.9 778.1h0M333.1 779.3h0M336.7 778.3h0M340.0 778.5h0M347.0 778.9h0M352.4 779.2h0M357.7 777.9h0M361.4 779.2h0M368.2 778.7h0M370.2 778.1h0M373.7 778.7h0M378.0 778.9h0M381.3 778.1h0M383.9 778.5h0M311.4 781.2h0M314.5 782.6h0M317.0 783.3h0M320.3 781.7h0M324.8 781.9h0M340.6 783.6h0M343.7 781.3h0M348.0 782.7h0M353.2 782.8h0M354.2 780.9h0M358.4 781.1h0M361.5 780.9h0M365.6 781.0h0M370.1 783.4h0M378.2 781.2h0M382.1 781.3h0M386.4 781.9h0M313.5 786.5h0M317.3 785.3h0M321.0 783.7h0M322.8 784.5h0M327.0 784.6h0M334.3 784.1h0M335.5 784.7h0M356.6 784.8h0M359.6 783.7h0M365.3 785.8h0M366.4 786.0h0M370.0 786.6h0M373.8 784.6h0M380.6 784.9h0M382.9 785.0h0M388.7 785.2h0M392.2 786.5h0M312.2 788.3h0M316.9 787.0h0M325.9 787.7h0M327.8 788.8h0M334.7 787.1h0M340.2 787.4h0M347.2 786.7h0M353.4 786.5h0M355.2 788.0h0M358.9 787.8h0M371.3 789.4h0M374.4 789.5h0M378.1 789.1h0M393.3 787.8h0M395.5 787.6h0M315.8 790.1h0M318.9 792.2h0M323.3 791.7h0M330.8 790.0h0M332.0 791.1h0M336.9 792.5h0M339.7 791.7h0M351.4 790.8h0M357.5 790.5h0M365.9 791.6h0M376.1 790.8h0M383.6 792.1h0M390.1 790.3h0M393.1 789.5h0M303.8 793.7h0M307.5 795.3h0M310.0 793.0h0M318.3 793.7h0M324.8 794.4h0M327.2 793.2h0M335.8 794.3h0M339.0 793.9h0M342.0 792.6h0M351.5 795.2h0M356.0 794.2h0M359.4 794.9h0M369.0 794.7h0M373.5 793.8h0M375.3 795.2h0M380.0 793.5h0M390.4 793.4h0M306.2 796.9h0M309.5 795.9h0M318.2 796.5h0M324.0 796.0h0M329.3 798.3h0M333.4 795.4h0M350.6 796.2h0M354.2 797.2h0M357.4 795.8h0M360.9 797.3h0M365.1 797.7h0M381.8 795.9h0M384.6 795.4h0M388.7 796.5h0M391.5 797.1h0M393.3 796.6h0M396.5 798.1h0M301.6 798.5h0M310.2 800.1h0M319.0 798.5h0M320.3 800.5h0M330.1 801.1h0M339.6 801.2h0M341.8 801.0h0M344.5 798.3h0M367.8 799.1h0M373.2 798.4h0M379.9 798.8h0M383.0 799.9h0M388.6 799.3h0M303.5 803.4h0M319.6 801.5h0M322.5 802.6h0M329.6 803.9h0M334.6 803.7h0M342.8 801.7h0M349.3 803.1h0M353.7 802.2h0M357.0 803.9h0M364.3 802.4h0M367.9 802.9h0M371.7 804.0h0M373.8 801.7h0M380.5 802.4h0M386.7 801.6h0M395.1 803.1h0M400.1 801.3h0M301.2 806.2h0M302.9 806.0h0M312.1 806.3h0M315.1 806.1h0M318.2 804.7h0M320.7 804.5h0M330.8 805.8h0M339.4 805.3h0M341.8 804.4h0M349.7 804.9h0M350.8 807.0h0M360.7 807.1h0M365.2 807.1h0M367.5 806.8h0M371.6 804.5h0M376.6 805.9h0M383.2 807.0h0M386.2 805.3h0M396.5 805.4h0M400.6 805.2h0M403.6 805.9h0M299.4 808.8h0M306.1 808.2h0M309.8 807.7h0M311.4 808.3h0M318.6 807.8h0M325.6 808.7h0M330.5 808.9h0M333.6 807.2h0M338.5 809.9h0M351.5 807.8h0M353.9 807.6h0M358.9 809.3h0M367.5 810.0h0M369.8 809.6h0M375.5 808.1h0M383.2 809.1h0M398.0 808.3h0M407.6 808.8h0M411.0 809.5h0M298.5 810.5h0M302.2 810.2h0M318.2 813.0h0M321.1 810.6h0M326.0 811.7h0M328.6 811.9h0M338.8 811.8h0M340.4 811.5h0M344.7 811.4h0M347.6 812.2h0M351.8 810.5h0M357.7 812.4h0M363.6 811.8h0M380.1 812.9h0M382.2 811.8h0M386.8 810.8h0M391.6 811.9h0M395.8 810.5h0M399.5 813.0h0M404.9 811.7h0M411.2 812.4h0M413.0 812.4h0M299.9 815.6h0M303.0 813.0h0M307.2 813.1h0M310.2 814.3h0M312.4 814.1h0M318.9 813.1h0M327.8 813.5h0M330.1 813.0h0M333.1 813.7h0M340.2 813.1h0M349.3 815.8h0M357.3 815.5h0M365.1 814.2h0M367.2 813.1h0M373.8 814.0h0M377.3 813.1h0M382.0 814.0h0M383.4 814.5h0M387.0 814.5h0M391.3 813.3h0M397.3 815.5h0M400.7 815.2h0M403.5 813.7h0M412.2 813.0h0M301.0 816.1h0M303.1 817.3h0M307.5 816.0h0M312.2 817.7h0M315.0 817.5h0M318.3 818.7h0M322.7 816.2h0M327.3 816.2h0M335.9 817.7h0M343.0 818.2h0M343.6 818.9h0M348.8 818.3h0M350.8 818.3h0M355.2 817.7h0M363.3 818.9h0M372.7 818.1h0M376.2 818.5h0M384.0 816.1h0M384.9 817.2h0M399.2 818.6h0M402.0 818.4h0M410.3 817.8h0M413.3 817.6h0M293.9 819.9h0M306.1 821.7h0M313.8 820.4h0M315.9 820.3h0M325.3 820.7h0M333.4 821.7h0M335.7 819.2h0M346.8 820.3h0M356.2 821.7h0M359.4 820.2h0M368.5 821.7h0M370.6 821.4h0M375.5 820.4h0M378.3 820.3h0M385.1 819.4h0M391.7 821.9h0M397.5 819.1h0M399.8 819.7h0M404.1 821.3h0M407.4 819.1h0M410.7 821.0h0M292.7 822.1h0M296.2 822.5h0M299.5 824.7h0M318.5 824.2h0M324.1 824.3h0M328.3 823.9h0M332.2 822.4h0M335.3 822.2h0M336.9 822.1h0M340.7 824.1h0M350.6 822.2h0M360.7 823.9h0M364.1 824.8h0M372.2 824.7h0M377.2 823.2h0M385.3 822.2h0M388.2 822.2h0M394.0 822.6h0M394.7 823.5h0M399.5 822.8h0M407.3 822.9h0M408.6 823.1h0M292.5 825.8h0M295.9 826.0h0M307.5 825.1h0M310.9 824.8h0M317.2 824.9h0M320.1 824.8h0M327.5 825.1h0M329.8 827.1h0M334.0 824.8h0M335.2 825.8h0M339.1 826.8h0M344.5 827.7h0M346.4 826.8h0M350.1 827.0h0M352.5 827.7h0M361.9 825.3h0M363.0 826.3h0M379.5 827.5h0M387.9 825.8h0M390.7 826.3h0M403.4 825.1h0M410.8 824.8h0M417.7 826.5h0M289.7 828.8h0M293.8 830.7h0M297.7 829.5h0M300.0 830.5h0M304.3 828.7h0M308.8 830.5h0M312.1 829.1h0M318.1 829.1h0M322.5 830.5h0M324.9 827.8h0M326.8 829.0h0M336.0 828.4h0M355.4 830.1h0M358.4 830.7h0M361.8 828.6h0M368.5 828.2h0M370.8 828.8h0M375.6 829.9h0M378.9 828.5h0M383.3 828.5h0M386.6 830.0h0M390.0 828.5h0M392.2 828.4h0M402.4 828.8h0M405.7 829.5h0M410.2 829.9h0M412.8 829.8h0M417.4 830.4h0M294.7 833.0h0M298.8 831.3h0M301.2 832.7h0M310.2 833.2h0M312.3 833.4h0M317.2 833.0h0M318.8 833.7h0M324.4 832.3h0M327.9 832.6h0M336.0 832.1h0M340.9 831.1h0M342.6 830.8h0M345.3 831.6h0M361.9 831.2h0M363.9 832.1h0M366.3 832.4h0M372.6 833.5h0M377.7 831.0h0M388.2 832.3h0M395.2 831.4h0M398.6 832.0h0M401.0 833.6h0M405.9 831.7h0M407.2 832.0h0M410.5 830.7h0M418.3 832.2h0M292.2 833.8h0M298.7 834.6h0M301.4 834.8h0M303.5 835.6h0M307.2 834.4h0M310.8 835.3h0M315.6 836.5h0M320.7 835.8h0M325.5 835.3h0M327.4 835.7h0M339.0 834.0h0M343.6 836.3h0M352.3 835.2h0M355.2 834.6h0M362.0 834.4h0M372.9 836.2h0M379.3 834.4h0M390.4 836.5h0M391.3 833.7h0M395.1 834.3h0M403.6 836.5h0M405.6 835.3h0M412.1 835.6h0M416.5 836.1h0M302.5 836.8h0M312.9 839.0h0M314.9 836.5h0M318.8 839.5h0M327.1 836.6h0M332.7 837.2h0M344.4 836.7h0M351.4 837.2h0M356.8 839.4h0M364.9 836.6h0M375.3 838.0h0M377.0 837.9h0M380.6 837.6h0M386.7 837.0h0M389.9 839.3h0M395.0 837.6h0M400.5 837.9h0M411.8 839.3h0M294.3 842.5h0M298.3 840.9h0M301.7 839.6h0M308.4 841.2h0M312.5 840.8h0M314.8 840.8h0M317.8 841.9h0M323.9 842.0h0M329.2 840.5h0M331.2 842.2h0M338.8 840.4h0M346.2 840.3h0M347.7 842.2h0M358.7 841.4h0M362.0 841.6h0M373.6 840.2h0M379.3 841.7h0M383.6 842.5h0M385.0 842.2h0M389.8 840.5h0M393.4 841.4h0M397.5 841.7h0M398.7 840.6h0M404.4 839.8h0M412.0 842.4h0M415.7 839.9h0M302.5 843.7h0M306.8 843.7h0M308.3 843.7h0M315.6 843.6h0M330.4 842.8h0M332.3 844.2h0M339.6 845.1h0M346.9 844.3h0M350.4 842.5h0M353.9 842.5h0M356.0 845.2h0M368.3 842.4h0M370.3 842.8h0M373.4 844.7h0M376.7 845.4h0M380.1 844.3h0M391.3 842.8h0M405.4 843.3h0M293.4 846.2h0M301.8 847.3h0M315.5 847.5h0M319.1 848.4h0M331.5 846.5h0M334.4 846.0h0M342.5 846.5h0M345.0 847.4h0M347.2 845.6h0M354.9 846.5h0M361.5 846.9h0M366.1 845.9h0M370.5 848.0h0M372.7 847.4h0M374.8 845.5h0M383.3 848.2h0M386.9 846.7h0M388.7 845.9h0M394.0 847.9h0M396.8 845.7h0M294.8 849.1h0M304.8 850.9h0M308.3 850.0h0M313.0 850.9h0M323.1 848.4h0M330.6 849.6h0M333.1 850.7h0M335.5 849.9h0M345.5 848.5h0M353.2 850.7h0M358.0 849.3h0M364.4 850.5h0M366.2 849.7h0M371.1 848.8h0M376.4 851.2h0M380.7 850.8h0M300.6 853.5h0M304.5 853.0h0M307.8 853.9h0M310.4 852.7h0M314.1 852.8h0M316.6 851.9h0M324.3 852.7h0M329.1 853.8h0M332.4 853.0h0M345.8 854.0h0M348.3 851.6h0M350.6 853.5h0M355.9 852.9h0M360.6 853.2h0M367.1 853.1h0M367.5 853.1h0M371.9 851.4h0M376.7 851.4h0M300.6 854.3h0M301.4 854.5h0M310.2 855.3h0M319.8 856.7h0M321.8 854.3h0M325.3 854.7h0M329.9 855.6h0M333.5 854.6h0M338.6 857.1h0M343.0 856.6h0M346.9 857.0h0M353.6 855.3h0M362.8 855.7h0M370.5 854.3h0M372.9 855.8h0M379.7 854.2h0M383.1 856.0h0M310.4 859.9h0M318.3 860.1h0M320.8 858.2h0M329.1 858.5h0M333.9 857.4h0M337.9 857.7h0M340.9 858.2h0M344.1 857.4h0M350.7 859.8h0M355.8 858.7h0M364.1 860.0h0M375.6 857.7h0M378.7 859.1h0M381.4 858.4h0M384.7 859.7h0M314.2 861.1h0M319.0 861.0h0M324.3 862.6h0M330.0 861.5h0M333.9 862.5h0M337.9 861.4h0M341.1 861.4h0M342.0 862.0h0M368.4 860.1h0M381.5 862.8h0M331.5 863.3h0M346.6 864.9h0M382.0 864.0h0M365.9 725.6h0M373.5 728.0h0M367.0 732.3h0M371.6 730.5h0M375.0 732.3h0M377.9 730.2h0M366.3 736.5h0M368.8 736.3h0M381.5 735.3h0M367.5 736.8h0M379.7 736.8h0M383.6 737.4h0M385.0 738.0h0M377.2 742.2h0M379.7 740.5h0M385.4 739.9h0M373.7 743.4h0M382.6 746.3h0M375.0 747.2h0M380.1 748.6h0M379.7 751.3h0M382.1 751.2h0M377.1 753.8h0M380.2 753.3h0M384.4 754.1h0M382.6 756.9h0M380.2 762.3h0M385.3 759.8h0M382.3 765.5h0M390.4 765.4h0M392.0 769.1h0M394.7 767.1h0M397.9 768.4h0M389.7 772.3h0M396.6 770.9h0M389.2 773.8h0M399.7 775.9h0M394.0 776.6h0M396.1 779.2h0M394.8 782.3h0M400.9 785.8h0M397.8 786.0h0M422.6 820.4h0M419.7 821.8h0M423.7 822.9h0M424.5 825.7h0M427.9 825.5h0M430.1 825.6h0M434.6 825.9h0M421.9 829.5h0M423.6 829.1h0M429.0 826.9h0M431.4 827.6h0M436.1 829.3h0M425.6 831.4h0M429.4 831.2h0M436.1 830.4h0M425.4 832.8h0M427.8 833.3h0M431.7 835.4h0M435.9 834.6h0M437.2 833.0h0M440.7 834.5h0M447.0 834.8h0M427.4 836.2h0M435.0 838.0h0M441.0 838.9h0M445.5 837.2h0M448.3 837.3h0M428.4 839.1h0M434.9 840.1h0M443.0 839.8h0M444.7 840.5h0M454.7 839.2h0M461.2 840.4h0M433.7 842.9h0M438.2 844.3h0M442.0 842.5h0M443.7 844.5h0M446.1 844.5h0M450.6 843.3h0M455.1 844.7h0M462.1 844.4h0M464.6 843.3h0M433.1 845.7h0M439.9 846.1h0M442.7 848.0h0M447.2 846.3h0M451.9 845.4h0M455.0 846.5h0M464.7 847.0h0M467.7 845.1h0M470.1 847.5h0M472.6 847.5h0M444.9 850.8h0M453.6 850.6h0M457.0 851.0h0M461.1 851.0h0M469.1 849.3h0M472.1 849.1h0M474.7 848.5h0M446.6 852.4h0M448.5 851.7h0M451.4 852.6h0M456.4 853.7h0M460.8 851.6h0M464.1 853.5h0M466.7 852.1h0M472.8 851.6h0M476.5 852.8h0M480.3 854.0h0M448.9 856.7h0M451.4 854.2h0M455.9 856.0h0M459.4 855.3h0M460.7 855.1h0M466.5 854.5h0M468.7 856.2h0M472.9 855.0h0M476.4 856.1h0M477.5 854.7h0M451.6 858.1h0M455.9 859.7h0M463.7 859.3h0M466.6 858.1h0M469.6 858.3h0M472.6 859.3h0M477.8 857.4h0M479.4 858.6h0M484.4 858.6h0M455.1 862.1h0M457.8 861.0h0M460.9 861.8h0M466.3 861.8h0M473.1 860.7h0M474.2 861.1h0M483.0 862.1h0M462.8 866.1h0M466.8 863.5h0M470.1 864.1h0M473.2 864.4h0M478.2 865.5h0M485.5 863.1h0M490.6 864.3h0M462.0 869.1h0M464.2 867.9h0M475.8 868.5h0M478.4 868.0h0M482.8 866.7h0M497.3 867.8h0M500.3 869.0h0M470.7 870.7h0M473.3 869.8h0M476.7 869.8h0M481.7 872.2h0M485.3 871.3h0M487.3 869.6h0M489.9 870.2h0M494.4 871.9h0M498.8 870.1h0M477.1 872.5h0M477.5 875.3h0M483.5 873.9h0M486.3 874.8h0M488.5 873.0h0M492.4 872.3h0M502.6 873.9h0M505.8 873.5h0M485.7 876.2h0M487.0 877.6h0M492.4 877.3h0M495.6 878.2h0M498.5 875.7h0M504.9 877.6h0M507.3 876.6h0M511.3 875.6h0M486.5 881.0h0M488.1 880.4h0M493.2 881.3h0M495.9 879.7h0M500.0 880.8h0M507.6 880.4h0M509.0 879.9h0M490.3 883.9h0M495.6 883.2h0M497.7 881.7h0M500.7 882.8h0M504.0 882.4h0M331.7 727.1h0M343.5 726.0h0M324.2 728.7h0M326.6 730.7h0M334.8 734.9h0M323.8 737.1h0M330.7 739.1h0M333.2 741.7h0M484.5 885.3h0M461.8 871.2h0M405.4 848.4h0M393.5 866.8h0M388.1 862.5h0M379.4 854.9h0M372.9 858.2h0M348.0 869.0h0M509.1 918.0h0M509.1 922.7h0M511.6 935.3h0M479.6 1029.1h0M443.3 1040.0h0M517.3 966.7h0M522.7 975.3h0M518.7 984.0h0M527.3 983.3h0M530.7 988.0h0M534.0 990.7h0M534.7 994.7h0M533.3 998.7h0M536.0 1004.0h0M530.7 1013.3h0M528.0 1016.0h0M519.3 992.0h0M529.3 993.3h0M529.3 998.7h0M532.0 996.0h0M526.7 990.7h0M533.3 1009.3h0M539.0 322.0h0M541.5 319.0h0M544.0 316.5h0M519.7 971.7h0M519.4 973.8h0M518.8 974.9h0M520.6 977.1h0M519.8 979.6h0M519.8 983.0h0M523.1 981.6h0M524.6 985.7h0M526.8 985.7h0M523.4 990.0h0M525.5 990.0h0M529.0 988.2h0M533.8 989.9h0M524.8 991.6h0M527.6 991.6h0M531.7 992.3h0M526.1 994.6h0M528.6 993.9h0M532.5 994.7h0M535.0 996.2h0M528.5 996.8h0M532.1 997.1h0M529.8 1000.8h0M534.1 1000.2h0M526.3 1005.5h0M530.4 1005.2h0M533.6 1006.0h0M522.7 1008.4h0M526.9 1008.4h0M522.2 1009.3h0M520.7 1013.6h0M525.4 1014.6h0M528.3 1012.6h0M524.7 1016.9h0M519.0 1020.4h0M419.8 547.0h0M423.3 542.3h0M426.8 540.0h0M430.3 537.7h0M428.0 544.7h0M426.3 551.7h0M422.8 558.7h0M426.8 556.3h0M429.2 550.5h0M421.0 555.2h0M424.5 549.3h0M431.5 542.3h0M435.0 535.3h0M650.0 659.0h0M654.3 665.5h0M650.0 672.0h0M647.8 680.7h0M652.2 685.0h0M658.7 689.3h0M658.7 695.8h0M663.0 698.0h0M654.3 711.0h0M658.7 713.2h0M665.2 715.3h0M671.7 702.3h0M676.0 706.7h0M678.2 719.7h0M673.8 721.8h0M645.7 663.3h0M641.3 656.8h0M650.0 689.3h0M645.7 695.8h0M632.7 706.7h0M628.3 704.5h0M750.2 219.0h0M752.5 222.5h0M756.0 223.7h0M758.3 221.3h0M751.3 226.0h0M754.8 227.2h0M749.0 221.3h0M759.5 219.0h0M763.0 219.0h0M765.3 216.7h0M768.8 216.7h0M766.5 224.8h0M764.2 227.2h0M779.3 205.0h0M784.0 207.3h0M781.7 210.8h0M788.7 221.3h0M793.3 219.0h0M795.7 221.3h0M785.2 228.3h0M788.7 228.3h0M793.3 230.7h0M779.3 222.5h0M781.7 224.8h0M739.7 184.0h0M745.5 181.7h0M738.5 181.7h0M735.0 189.8h0M736.2 194.5h0M739.7 193.3h0M745.5 188.7h0M750.2 191.0h0M754.8 195.7h0M757.2 199.2h0M751.3 196.8h0M947.0 715.3h0M947.8 714.8h0M932.0 717.4h0M939.3 719.5h0M948.9 718.2h0M952.1 718.5h0M956.6 715.7h0M966.1 719.7h0M979.4 716.8h0M930.5 719.9h0M936.4 719.8h0M940.9 721.1h0M945.1 720.5h0M951.7 722.1h0M960.2 720.3h0M963.1 722.8h0M968.3 720.3h0M976.2 720.1h0M978.3 722.9h0M988.8 724.1h0M916.3 727.0h0M922.8 728.2h0M928.9 726.9h0M931.1 726.6h0M939.1 725.8h0M942.0 725.3h0M949.5 726.7h0M961.5 726.7h0M967.9 727.6h0M974.7 725.3h0M979.5 727.6h0M980.7 727.0h0M985.8 727.2h0M991.9 726.6h0M910.4 732.7h0M917.0 732.5h0M919.9 732.5h0M923.5 730.5h0M936.0 728.7h0M940.0 730.8h0M943.9 728.5h0M951.2 729.0h0M955.4 729.2h0M959.8 732.4h0M966.8 729.2h0M970.7 730.3h0M980.6 731.0h0M983.5 730.0h0M990.8 729.4h0M996.9 730.9h0M913.8 736.3h0M919.1 736.0h0M923.4 732.9h0M927.2 736.0h0M936.5 735.9h0M940.7 737.2h0M952.3 733.2h0M958.2 734.3h0M961.2 737.0h0M969.3 733.5h0M971.7 735.7h0M982.7 733.8h0M985.4 735.8h0M994.1 737.2h0M911.2 738.4h0M915.1 737.4h0M925.0 739.1h0M930.5 738.4h0M934.2 740.6h0M939.3 740.9h0M944.1 738.2h0M951.4 737.4h0M961.2 740.4h0M963.9 739.6h0M976.7 740.4h0M977.9 737.8h0M987.9 740.5h0M994.7 740.8h0M998.3 738.8h0M915.4 742.9h0M924.1 742.8h0M931.9 743.2h0M937.4 745.4h0M945.9 744.3h0M950.5 743.3h0M958.2 743.0h0M960.4 742.8h0M969.2 742.3h0M971.3 745.1h0M978.9 742.5h0M983.5 744.7h0M986.6 743.3h0M993.3 741.4h0M996.2 741.8h0M1000.5 744.4h0M916.1 748.5h0M918.6 746.2h0M924.6 746.7h0M937.0 747.4h0M938.1 749.2h0M944.0 748.0h0M948.3 745.9h0M961.3 747.7h0M966.6 750.1h0M971.2 747.4h0M976.2 746.9h0M980.1 750.1h0M984.2 749.4h0M988.6 746.8h0M993.4 749.8h0M913.6 753.0h0M919.4 750.6h0M921.1 753.6h0M928.9 750.1h0M937.9 751.5h0M942.6 752.2h0M949.0 752.2h0M953.5 752.9h0M957.2 750.8h0M962.0 752.9h0M968.7 751.4h0M974.3 750.9h0M977.3 751.7h0M983.7 754.2h0M988.7 753.7h0M994.6 750.1h0M998.4 750.1h0M919.1 757.9h0M924.5 755.4h0M928.6 757.2h0M938.2 758.5h0M946.1 756.0h0M949.4 754.4h0M956.9 756.9h0M958.3 755.1h0M964.5 758.3h0M968.0 754.9h0M976.3 754.5h0M986.0 757.4h0M988.1 755.1h0M994.7 757.9h0M912.4 762.1h0M919.2 762.8h0M921.6 759.3h0M926.5 763.2h0M932.9 761.4h0M935.4 762.2h0M943.1 759.4h0M946.6 759.2h0M950.8 762.7h0M958.3 761.1h0M962.7 761.9h0M969.2 760.1h0M970.8 761.7h0M978.9 761.2h0M983.2 760.6h0M920.2 763.7h0M922.8 763.8h0M933.1 765.0h0M939.3 764.4h0M944.2 765.4h0M950.5 763.6h0M953.7 766.0h0M962.2 764.9h0M963.1 765.4h0M968.8 764.8h0M975.8 767.5h0M979.0 766.1h0M983.7 764.0h0M917.1 769.3h0M921.0 768.3h0M928.9 767.4h0M930.8 770.7h0M943.5 770.5h0M947.7 770.3h0M952.4 770.2h0M958.4 771.4h0M963.5 767.9h0M967.4 771.8h0M972.3 768.6h0M975.6 769.2h0M981.0 768.1h0M921.7 776.2h0M926.3 772.0h0M934.9 775.6h0M941.1 773.3h0M946.3 771.9h0M948.1 774.3h0M953.5 772.3h0M961.3 772.4h0M968.8 771.8h0M923.7 776.5h0M934.4 778.7h0M936.5 777.5h0M942.7 776.7h0M946.6 777.6h0M950.4 778.0h0M958.1 779.2h0M962.8 777.3h0M925.4 780.8h0M929.1 781.3h0" stroke="#d3d3d3"/>
<path d="M204.4 507.4h0M187.1 514.7h0M195.9 516.8h0M176.7 529.8h0M188.4 529.4h0M178.4 533.3h0M182.9 536.6h0M161.4 542.0h0M194.1 541.2h0M150.7 544.3h0M191.9 544.8h0M178.5 546.9h0M205.6 548.0h0M170.5 550.7h0M188.4 548.5h0M169.9 557.2h0M199.8 555.1h0M200.6 554.9h0M154.4 560.1h0M165.7 560.4h0M178.3 561.9h0M167.1 564.8h0" stroke="#b69ce3"/>
<path d="M185.7 503.9h0M197.8 505.5h0M203.1 504.9h0M197.4 505.9h0M216.5 505.8h0M191.5 511.3h0M196.9 509.4h0M203.4 510.5h0M211.4 510.1h0M180.9 513.0h0M190.2 514.0h0M198.0 513.1h0M204.5 513.5h0M222.6 514.7h0M185.8 515.3h0M178.1 520.0h0M200.2 520.6h0M215.1 518.5h0M163.4 523.7h0M178.7 523.2h0M183.0 522.7h0M186.3 523.6h0M192.7 520.9h0M203.3 522.3h0M221.8 523.5h0M164.7 525.8h0M170.8 525.3h0M190.6 526.7h0M211.8 524.6h0M160.2 527.2h0M172.4 527.1h0M178.9 528.2h0M218.9 526.9h0M227.8 529.7h0M160.8 530.8h0M165.3 531.1h0M170.3 530.7h0M204.5 532.6h0M213.7 530.2h0M216.4 531.1h0M230.3 531.0h0M154.4 533.9h0M172.3 533.1h0M192.6 534.6h0M195.7 533.2h0M159.7 536.5h0M162.7 538.0h0M167.9 538.0h0M174.0 536.4h0M204.1 536.6h0M228.7 539.0h0M236.8 537.8h0M148.8 539.4h0M157.1 541.7h0M169.8 541.3h0M186.1 540.0h0M224.2 539.3h0M155.2 542.3h0M165.3 544.8h0M171.4 544.6h0M174.3 545.1h0M175.9 543.6h0M185.0 545.0h0M187.3 544.7h0M195.4 542.1h0M197.6 542.6h0M211.4 544.6h0M217.1 545.0h0M222.2 542.1h0M228.6 542.8h0M149.0 547.5h0M152.3 548.0h0M155.3 547.2h0M157.2 546.3h0M166.0 546.0h0M183.2 547.6h0M193.7 545.6h0M200.4 547.7h0M213.7 545.5h0M222.3 547.5h0M158.7 550.7h0M174.0 550.3h0M180.2 551.2h0M205.0 548.9h0M231.3 548.3h0M150.3 551.3h0M162.8 552.1h0M170.0 554.2h0M186.0 552.0h0M195.0 551.5h0M198.7 554.0h0M207.2 551.6h0M221.0 554.0h0M162.4 556.4h0M165.9 557.1h0M176.7 557.0h0M184.8 555.8h0M187.1 557.0h0M218.8 556.9h0M159.5 558.0h0M175.0 559.7h0M192.8 558.0h0M198.1 557.2h0M207.6 558.6h0M163.2 562.4h0M169.4 560.5h0M180.3 561.9h0M188.3 560.5h0M198.6 561.4h0M171.2 565.9h0M198.6 565.0h0M183.8 566.4h0M190.9 568.3h0M203.2 566.7h0M221.7 566.2h0M234.9 564.1h0M237.1 566.1h0M218.6 566.7h0M222.7 568.0h0M235.4 567.7h0M217.4 570.0h0M223.1 569.6h0M235.4 569.6h0M218.1 573.9h0M239.4 574.8h0M218.5 576.4h0M226.2 576.6h0M393.1 387.3h0M387.1 390.7h0M419.1 396.5h0M387.8 402.7h0M377.2 408.4h0M396.2 408.7h0M380.3 411.4h0M385.2 409.3h0M392.9 418.4h0M401.6 419.5h0M390.3 423.7h0M388.9 426.0h0M395.4 434.8h0M409.2 437.8h0M507.0 553.2h0M427.5 559.2h0M507.4 558.2h0M483.0 563.1h0M467.2 564.9h0M515.4 565.0h0M469.7 567.1h0M432.9 573.9h0M433.1 578.6h0M469.4 576.1h0M454.7 586.9h0M466.0 591.5h0M598.2 379.7h0M600.8 379.1h0M599.4 382.6h0M603.5 383.9h0M589.8 388.2h0M594.5 388.3h0M585.9 392.6h0M590.8 393.4h0M607.4 395.0h0M592.0 398.4h0M614.3 399.2h0M592.0 403.4h0M610.1 401.8h0M618.6 404.4h0M593.1 405.0h0M610.0 406.0h0M624.7 406.0h0M592.1 410.7h0M607.4 412.2h0M615.3 411.3h0M624.4 413.2h0M629.9 410.8h0M620.7 415.4h0M630.7 415.2h0M616.6 421.1h0M620.0 424.2h0M633.5 424.0h0M640.3 423.7h0M626.0 426.9h0M633.1 425.4h0M638.0 427.3h0M633.1 430.3h0M632.8 433.4h0M703.7 841.9h0M712.4 840.0h0M718.6 840.0h0M738.3 840.6h0M713.4 843.9h0M738.5 843.4h0M703.7 845.3h0M707.4 846.3h0M710.6 846.9h0M723.8 845.7h0M729.1 846.1h0M735.8 847.9h0M743.1 845.5h0M717.8 848.1h0M735.8 848.9h0M692.7 852.1h0M694.6 853.0h0M697.8 853.5h0M701.1 850.9h0M706.0 851.3h0M718.8 850.8h0M720.2 851.4h0M734.3 851.5h0M696.2 854.9h0M701.8 856.0h0M717.8 855.1h0M720.3 855.5h0M725.3 854.9h0M716.8 858.0h0M727.0 858.4h0M730.3 857.1h0M735.3 856.9h0M702.0 860.3h0M707.4 861.8h0M713.6 860.2h0M718.6 860.6h0M721.6 863.0h0M333.7 721.2h0M337.9 723.5h0M353.0 722.9h0M340.6 725.0h0M346.1 726.2h0M341.8 728.6h0M352.5 729.0h0M359.9 729.8h0M334.4 731.8h0M335.6 732.2h0M339.7 732.0h0M330.5 734.6h0M330.9 738.1h0M354.6 738.3h0M362.5 737.4h0M322.3 740.6h0M353.1 740.0h0M355.3 740.3h0M352.3 745.1h0M324.3 746.0h0M336.4 747.9h0M361.5 747.4h0M321.5 748.6h0M344.3 748.4h0M360.1 750.7h0M324.8 753.8h0M326.7 752.2h0M331.9 753.9h0M337.9 752.6h0M354.5 753.5h0M318.6 754.7h0M332.5 755.1h0M335.7 754.9h0M350.0 757.0h0M369.6 756.2h0M344.9 759.4h0M351.2 758.8h0M365.0 758.1h0M374.9 758.9h0M320.1 760.1h0M328.7 761.1h0M332.6 762.8h0M341.0 760.1h0M351.4 761.5h0M353.4 762.5h0M360.7 762.9h0M371.3 761.3h0M333.6 764.5h0M343.9 763.1h0M376.9 764.2h0M334.2 766.8h0M350.1 766.7h0M354.5 767.4h0M316.7 770.2h0M336.8 769.7h0M351.5 771.5h0M362.3 768.9h0M326.9 774.1h0M331.4 774.5h0M350.5 772.8h0M352.8 772.8h0M364.8 773.3h0M367.3 772.3h0M374.3 771.9h0M319.2 774.9h0M342.7 777.4h0M348.5 777.5h0M360.0 775.5h0M376.3 776.5h0M349.9 780.1h0M363.3 780.0h0M329.5 782.6h0M330.1 783.2h0M335.6 783.0h0M337.9 782.3h0M371.6 780.9h0M376.7 782.0h0M388.6 781.7h0M307.2 784.3h0M328.4 785.7h0M344.1 785.6h0M347.9 784.4h0M350.9 783.6h0M352.5 786.0h0M395.4 786.2h0M321.7 788.9h0M330.5 786.9h0M339.5 788.3h0M345.7 788.4h0M381.0 788.3h0M385.4 789.1h0M387.8 787.9h0M304.8 789.8h0M311.9 791.1h0M343.3 789.7h0M348.4 789.6h0M355.0 790.3h0M359.9 791.9h0M363.4 790.6h0M372.0 791.0h0M373.5 792.3h0M380.0 790.2h0M389.1 790.4h0M314.0 793.1h0M331.9 793.4h0M346.5 792.5h0M348.5 793.5h0M363.6 794.6h0M365.2 795.0h0M382.8 795.1h0M386.0 794.5h0M391.4 795.1h0M397.4 794.6h0M312.8 797.8h0M316.7 796.7h0M339.1 797.2h0M344.0 796.5h0M367.9 795.6h0M369.9 795.6h0M372.8 795.8h0M376.5 796.8h0M306.3 800.7h0M315.5 800.0h0M325.7 800.3h0M328.8 798.9h0M334.3 800.0h0M349.5 801.0h0M352.2 799.8h0M353.9 799.1h0M357.7 801.1h0M366.4 799.5h0M376.2 799.4h0M395.6 799.6h0M400.8 798.3h0M401.4 801.1h0M307.4 802.8h0M309.3 801.7h0M312.8 802.8h0M317.6 802.0h0M325.1 803.2h0M336.0 803.8h0M340.2 802.1h0M359.6 803.8h0M384.9 801.4h0M391.2 803.6h0M309.1 805.9h0M328.8 806.7h0M334.5 805.3h0M346.3 806.7h0M356.3 807.1h0M359.3 804.2h0M379.4 805.3h0M391.8 807.0h0M315.2 808.1h0M321.7 809.6h0M337.8 809.6h0M342.9 808.3h0M346.1 807.4h0M358.1 809.9h0M363.0 810.0h0M381.3 809.7h0M386.2 809.4h0M389.6 809.0h0M394.4 808.7h0M405.0 807.3h0M305.2 811.4h0M307.8 811.8h0M311.6 812.9h0M331.7 811.2h0M365.2 811.2h0M369.8 812.6h0M372.7 810.1h0M402.2 812.7h0M295.0 815.4h0M321.6 815.7h0M336.8 815.6h0M342.9 815.5h0M345.7 813.0h0M352.6 815.5h0M369.5 813.4h0M292.8 816.9h0M296.3 816.4h0M323.8 817.5h0M339.6 818.9h0M365.3 816.5h0M369.4 816.7h0M379.1 817.7h0M390.7 816.7h0M395.1 818.3h0M407.3 818.1h0M415.0 818.5h0M299.4 819.6h0M301.7 821.8h0M318.2 821.0h0M323.3 821.6h0M343.8 821.7h0M349.4 819.4h0M353.6 819.6h0M363.1 821.6h0M381.0 821.6h0M387.0 820.2h0M395.7 818.9h0M289.7 824.2h0M304.9 822.6h0M307.0 822.5h0M314.4 822.9h0M320.5 822.3h0M350.0 822.7h0M356.0 823.2h0M357.6 823.1h0M368.6 822.8h0M378.1 823.4h0M300.5 825.2h0M302.7 825.1h0M313.0 826.0h0M323.4 825.4h0M357.7 825.5h0M371.2 826.1h0M374.8 826.7h0M384.9 826.1h0M396.7 825.3h0M401.2 825.8h0M415.7 825.2h0M314.9 829.3h0M330.4 829.9h0M339.2 829.1h0M343.0 827.8h0M350.5 829.9h0M395.0 830.1h0M400.3 828.4h0M334.3 832.7h0M349.2 832.7h0M353.8 831.1h0M356.2 831.5h0M372.1 832.2h0M380.2 833.5h0M384.2 832.8h0M415.6 831.6h0M317.0 836.3h0M334.7 835.2h0M340.7 834.3h0M348.0 834.9h0M358.2 835.3h0M365.5 833.7h0M368.6 834.7h0M376.9 835.0h0M381.0 834.8h0M399.5 834.1h0M408.2 835.7h0M295.9 837.4h0M299.5 838.2h0M307.5 838.8h0M309.4 837.2h0M324.4 837.7h0M328.4 839.3h0M336.4 836.8h0M340.0 838.6h0M347.9 839.3h0M354.6 838.3h0M361.7 836.6h0M370.1 837.6h0M397.2 838.0h0M405.7 836.9h0M334.5 840.3h0M364.5 839.5h0M369.8 839.9h0M375.1 841.1h0M292.2 843.5h0M297.2 844.6h0M298.0 843.6h0M314.0 844.6h0M318.1 842.9h0M325.6 842.9h0M336.2 843.0h0M344.4 842.8h0M360.3 843.0h0M384.5 844.1h0M306.3 846.9h0M310.2 845.9h0M321.0 845.9h0M325.5 845.7h0M328.7 845.5h0M338.7 845.4h0M353.0 847.1h0M358.7 846.0h0M378.0 848.2h0M300.1 848.3h0M314.9 849.7h0M319.4 850.3h0M326.3 850.2h0M339.7 851.2h0M342.1 850.4h0M360.7 848.5h0M335.1 851.7h0M340.6 852.4h0M358.5 853.1h0M380.3 851.8h0M381.9 852.2h0M350.5 854.6h0M356.5 856.3h0M378.6 855.8h0M323.5 858.9h0M332.7 857.8h0M349.6 857.5h0M359.6 857.9h0M362.0 857.3h0M369.0 857.3h0M349.6 861.7h0M383.4 861.0h0M328.0 864.5h0M342.4 863.2h0M385.9 731.3h0M386.1 765.5h0M397.7 784.3h0M432.4 831.1h0M430.1 838.2h0M450.4 837.7h0M431.0 839.3h0M437.2 840.5h0M450.7 839.4h0M456.8 844.2h0M458.6 847.5h0M448.9 849.2h0M449.5 850.4h0M464.3 848.0h0M468.8 851.1h0M480.1 862.8h0M485.7 861.5h0M481.4 863.6h0M487.6 863.7h0M471.2 866.8h0M485.4 866.1h0M489.7 866.3h0M491.6 868.0h0M502.0 871.9h0M496.7 874.1h0M479.8 877.0h0M501.8 875.5h0M482.3 879.8h0M502.6 880.8h0M486.4 881.3h0M334.3 722.4h0M340.0 722.0h0M330.1 726.3h0M337.3 725.0h0M340.8 726.2h0M331.4 728.1h0M334.1 730.4h0M338.9 730.6h0M340.6 729.3h0M324.1 731.8h0M328.7 733.2h0M334.3 731.9h0M336.7 732.2h0M339.5 733.4h0M343.2 730.8h0M325.7 736.2h0M327.3 735.3h0M330.1 733.7h0M339.2 733.9h0M320.9 736.4h0M325.9 737.4h0M334.1 738.9h0M336.6 739.1h0M338.2 736.6h0M322.5 741.4h0M323.5 740.0h0M328.4 740.8h0M331.2 741.4h0M336.7 740.2h0M327.8 743.6h0M330.5 742.9h0M332.7 743.4h0M533.2 991.2h0M535.3 997.1h0M527.7 1009.0h0M531.5 1006.4h0M531.6 1011.5h0" stroke="#a480ea"/>
<path d="M437.2 581.7h0M386.2 768.1h0" stroke="#966eee"/>
<path d="M691.9 115.8h0M700.7 121.6h0M706.5 119.6h0M689.0 128.0h0M692.5 128.9h0M701.5 131.3h0M711.4 132.4h0M721.7 135.0h0M724.0 136.8h0M699.5 137.3h0M674.2 139.4h0M679.7 143.2h0M699.9 144.9h0M713.5 148.1h0M729.5 142.9h0M725.5 156.2h0M725.5 159.7h0M695.8 161.3h0M694.8 163.6h0M686.1 164.5h0M677.3 170.0h0M678.3 174.4h0M687.6 175.8h0M688.2 180.3h0M703.4 179.1h0M713.5 170.0h0M730.8 173.2h0M710.0 185.5h0M728.7 205.9h0M775.3 211.1h0M675.0 205.6h0M712.9 235.9h0M775.0 211.2h0M791.9 212.5h0M795.6 225.6h0M761.9 255.0h0M769.4 260.4h0M773.1 258.4h0M743.8 273.5h0M816.9 228.1h0M816.9 233.8h0M804.0 241.6h0M825.2 270.6h0M817.5 275.4h0M801.6 282.8h0M812.5 282.5h0M821.2 285.4h0M827.1 282.5h0M833.8 286.6h0M838.8 289.1h0M836.9 291.9h0M824.6 290.6h0M812.9 297.8h0M785.0 305.0h0M785.6 308.8h0M799.6 316.0h0M553.1 222.5h0M561.9 222.8h0M565.6 218.1h0M574.6 225.0h0M582.5 230.4h0M585.6 223.8h0M588.1 224.4h0M563.8 235.6h0M570.6 242.5h0M570.2 245.6h0M599.1 231.2h0M605.6 235.0h0M618.2 237.8h0M539.4 250.0h0M551.5 251.5h0M675.2 205.5h0M668.5 242.2h0M666.5 247.5h0M712.0 236.8h0M714.5 235.8h0M728.5 205.8h0M715.5 272.2h0M737.5 275.5h0M743.7 273.3h0M235.0 510.0h0M241.6 499.4h0M247.2 495.0h0M253.1 491.2h0M258.8 488.8h0M257.1 495.9h0M246.2 508.8h0M248.1 507.5h0M236.2 531.2h0M395.0 388.3h0M391.7 390.8h0M391.7 395.8h0M395.0 398.3h0M390.8 403.3h0M393.3 406.7h0M381.7 403.3h0M380.8 407.5h0M384.2 411.7h0M386.7 415.0h0M390.8 413.3h0M385.8 420.0h0M389.2 423.3h0M394.2 421.7h0M393.3 428.3h0M396.7 429.2h0M400.0 433.3h0M403.3 435.0h0M407.5 433.3h0M410.8 435.0h0M414.2 436.7h0M410.8 440.8h0M413.3 441.7h0M406.7 400.8h0M404.2 405.0h0M406.7 407.5h0M402.5 410.0h0M405.0 390.8h0M415.8 415.8h0M407.5 420.8h0M402.5 425.0h0M425.8 423.3h0M440.4 414.8h0M447.5 413.3h0M450.0 413.3h0M452.5 412.5h0M454.2 411.7h0M419.3 443.5h0M441.2 445.4h0M446.2 447.5h0M438.3 450.4h0M457.1 440.6h0M415.0 391.7h0M417.9 394.2h0M415.4 397.9h0M491.9 345.6h0M483.1 353.1h0M485.0 354.4h0M492.5 360.6h0M491.9 362.5h0M499.6 381.6h0M510.2 401.6h0M521.2 424.8h0M457.5 440.4h0M446.2 447.5h0M465.0 467.5h0M467.5 465.0h0M471.2 462.5h0M475.0 460.0h0M477.5 458.8h0M480.0 456.2h0M482.5 455.0h0M486.2 460.0h0M468.8 468.8h0M472.5 463.8h0M466.2 470.0h0M514.4 447.5h0M519.0 451.2h0M524.4 441.9h0M524.8 446.2h0M532.1 445.6h0M421.0 551.7h0M423.3 544.7h0M429.2 539.4h0M424.5 564.5h0M428.0 567.4h0M436.2 565.7h0M425.7 576.8h0M430.3 583.8h0M431.5 585.5h0M438.5 583.2h0M441.4 594.8h0M449.6 591.3h0M449.6 597.8h0M451.9 575.0h0M451.9 578.5h0M447.8 570.9h0M444.3 566.8h0M450.2 561.0h0M454.8 561.0h0M457.8 563.3h0M456.0 586.7h0M458.3 585.5h0M457.8 591.3h0M464.2 575.0h0M469.4 577.3h0M466.5 590.2h0M473.5 596.0h0M477.0 592.5h0M479.9 586.7h0M475.8 563.9h0M479.9 560.4h0M492.2 553.4h0M490.4 563.9h0M492.2 576.2h0M495.7 585.5h0M500.3 545.8h0M501.5 577.3h0M498.0 566.8h0M500.3 569.2h0M507.3 572.7h0M512.0 572.7h0M509.7 568.0h0M513.2 561.0h0M512.0 552.3h0M513.2 545.8h0M516.7 547.0h0M514.3 538.8h0M520.2 535.3h0M509.7 533.6h0M514.9 566.3h0M510.3 558.7h0M421.6 555.2h0M419.3 551.7h0M425.1 543.5h0M430.9 538.8h0M489.8 486.9h0M489.8 489.3h0M491.0 496.8h0M494.5 498.6h0M485.5 502.7h0M493.9 516.1h0M498.9 520.2h0M536.3 509.1h0M467.1 470.6h0M571.3 448.3h0M573.8 455.8h0M575.8 462.5h0M579.2 464.2h0M585.0 468.3h0M583.0 472.5h0M568.7 479.2h0M563.3 498.3h0M591.7 385.0h0M597.5 383.3h0M607.5 381.7h0M606.7 386.7h0M586.7 393.3h0M601.7 390.8h0M598.3 396.7h0M603.3 398.3h0M600.0 405.0h0M596.7 405.0h0M590.0 409.2h0M608.3 395.0h0M613.3 391.7h0M610.0 400.0h0M618.3 397.5h0M600.0 410.8h0M606.7 411.7h0M611.7 413.3h0M616.7 408.3h0M610.0 415.0h0M601.7 418.3h0M595.0 416.7h0M618.3 420.0h0M620.0 418.3h0M623.3 410.8h0M630.8 420.0h0M632.5 427.5h0M639.2 429.2h0M641.7 435.0h0M586.7 420.8h0M600.0 427.5h0M607.5 437.5h0M612.5 434.2h0M615.0 430.8h0M598.3 438.3h0M599.2 442.5h0M619.2 440.0h0M612.5 445.0h0M628.3 441.7h0M593.3 450.0h0M591.7 453.3h0M605.0 457.5h0M594.2 460.8h0M618.3 459.2h0M622.5 458.3h0M625.8 459.2h0M635.8 465.0h0M640.0 462.5h0M655.8 458.3h0M660.0 461.7h0M656.7 427.5h0M663.3 444.2h0M669.2 442.5h0M676.7 437.5h0M675.8 449.2h0M684.2 432.5h0M688.3 429.2h0M694.2 440.8h0M695.8 446.7h0M700.0 445.8h0M694.2 450.8h0M705.0 436.7h0M714.2 449.7h0M718.3 455.0h0M724.2 457.5h0M706.7 459.2h0M690.0 464.2h0M700.0 470.0h0M700.8 472.5h0M593.3 388.3h0M596.7 391.7h0M600.0 393.3h0M595.0 398.3h0M598.3 401.7h0M605.0 395.0h0M603.3 403.3h0M593.3 408.3h0M723.8 535.4h0M739.2 545.0h0M741.7 543.3h0M744.2 541.7h0M747.1 553.8h0M770.7 602.3h0M895.8 578.2h0M961.7 645.0h0M971.3 642.5h0M1004.7 645.0h0M970.8 659.7h0M989.2 666.7h0M1004.2 670.8h0M946.7 660.8h0M945.8 665.0h0M946.7 667.5h0M942.8 675.5h0M957.2 676.7h0M962.5 679.2h0M952.2 682.8h0M912.8 678.8h0M1051.2 675.0h0M965.3 692.8h0M988.3 694.2h0M995.0 693.3h0M1021.3 698.3h0M975.5 700.5h0M962.0 703.8h0M952.5 705.3h0M987.2 710.3h0M916.3 704.7h0M913.8 708.7h0M930.8 710.3h0M945.5 710.0h0M950.0 715.3h0M896.3 704.2h0M905.8 719.2h0M930.0 720.0h0M933.3 721.3h0M925.0 723.7h0M952.2 725.3h0M1045.5 712.2h0M1046.7 715.8h0M906.3 726.3h0M915.5 730.8h0M905.0 734.7h0M945.0 727.8h0M962.5 728.8h0M952.5 732.0h0M970.0 731.2h0M990.0 725.0h0M992.5 728.3h0M995.0 729.7h0M985.5 733.8h0M1036.7 731.3h0M914.2 739.7h0M921.3 741.3h0M936.7 739.2h0M935.8 741.7h0M944.2 736.2h0M956.7 736.2h0M962.5 738.3h0M1013.3 741.7h0M1018.3 742.5h0M1002.5 745.0h0M1005.8 748.3h0M970.8 752.5h0M980.8 755.0h0M953.8 754.7h0M945.0 750.8h0M930.0 751.7h0M1014.2 766.7h0M956.3 773.8h0M676.7 713.9h0M670.3 715.7h0M671.2 724.4h0M673.0 726.7h0M677.6 735.4h0M650.6 707.9h0M586.8 739.5h0M622.1 646.0h0M598.6 667.4h0M622.6 670.3h0M624.4 674.4h0M642.3 673.5h0M641.4 679.0h0M657.0 685.3h0M611.1 681.8h0M612.5 681.8h0M606.1 684.5h0M601.0 684.3h0M627.6 690.5h0M637.7 694.6h0M611.1 696.0h0M599.7 698.7h0M621.2 703.3h0M636.4 707.9h0M641.9 703.3h0M545.8 764.2h0M548.3 765.0h0M546.7 766.7h0M556.2 764.2h0M555.8 767.9h0M552.5 770.8h0M549.2 774.2h0M550.0 775.4h0M563.3 766.7h0M565.0 769.2h0M579.6 767.9h0M580.0 771.7h0M581.7 772.1h0M572.5 778.3h0M574.2 779.6h0M559.2 782.1h0M561.7 781.7h0M564.2 781.7h0M552.1 789.6h0M552.5 791.7h0M586.7 739.6h0M731.9 720.5h0M734.7 719.1h0M809.1 777.2h0M811.2 777.2h0M807.6 781.4h0M801.3 787.8h0M802.7 792.8h0M706.5 830.5h0M721.0 839.7h0M736.7 853.3h0M698.7 859.3h0M727.3 858.0h0M737.3 842.0h0M741.3 845.3h0M613.8 858.3h0M626.4 884.2h0M633.2 896.6h0M634.6 899.4h0M635.3 903.7h0M633.9 907.2h0M625.4 918.5h0M631.1 917.8h0M636.7 916.4h0M639.6 915.7h0M626.8 923.5h0M628.2 925.6h0M645.9 917.1h0M650.9 913.6h0M707.6 935.5h0M711.8 934.8h0M716.1 943.3h0M718.2 944.7h0M722.4 940.5h0M713.5 952.9h0M658.0 982.3h0M659.4 983.7h0M508.4 877.7h0M510.5 875.5h0M504.0 873.3h0M483.4 875.5h0M487.8 866.8h0M446.6 859.9h0M434.7 847.3h0M349.1 863.6h0M379.4 859.7h0M520.0 974.7h0M520.9 980.0h0M521.6 989.3h0M523.7 995.6h0M529.6 1001.3h0M532.0 1007.3h0M526.7 1006.7h0M520.0 1009.3h0M517.3 1014.7h0M516.0 1019.3h0M521.3 1017.3h0M522.7 1014.7h0M436.0 1046.0h0M438.0 1044.7h0M519.3 1016.0h0M546.0 315.0h0M552.5 310.0h0" stroke="#a480ea"/>
<path d="M684.9 114.9h0M671.5 119.3h0M677.1 123.1h0M682.2 141.8h0M671.7 169.4h0M720.3 169.1h0M746.4 201.3h0M754.9 216.4h0M772.2 301.6h0M797.8 306.9h0M548.1 218.8h0M551.2 219.4h0M558.1 225.6h0M562.2 228.8h0M569.4 221.2h0M576.6 228.5h0M604.1 232.8h0M609.4 243.1h0M677.5 241.3h0M193.5 504.0h0M169.4 542.5h0M170.0 546.2h0M160.6 551.5h0M171.2 553.1h0M186.2 566.9h0M520.6 445.2h0M438.5 570.3h0M426.8 572.7h0M430.9 573.3h0M486.3 559.8h0M514.9 534.2h0M571.3 443.3h0M595.8 386.7h0M590.0 392.5h0M593.3 393.3h0M588.3 403.3h0M633.3 423.3h0M590.0 428.3h0M698.3 443.3h0M712.5 439.2h0M1004.2 630.0h0M1027.5 648.3h0M1050.5 642.8h0M1009.2 664.2h0M988.8 675.5h0M989.2 684.0h0M998.0 694.7h0M1008.3 695.0h0M1026.7 691.7h0M1046.7 692.5h0M1018.3 700.0h0M1054.2 700.8h0M1003.7 704.7h0M1000.3 718.8h0M912.5 733.7h0M1017.2 732.5h0M972.2 737.0h0M1022.5 745.0h0M967.5 746.7h0M998.3 752.0h0M1017.5 753.0h0M932.5 750.3h0M931.3 761.3h0M976.7 766.7h0M978.3 769.7h0M1009.7 767.2h0M912.5 773.3h0M937.5 772.7h0M917.0 781.3h0M947.0 782.0h0M668.0 699.2h0M673.5 714.3h0M675.3 730.8h0M675.3 732.2h0M606.5 661.4h0M604.3 674.4h0M604.7 675.3h0M620.3 675.3h0M627.2 673.1h0M641.9 682.7h0M641.9 684.5h0M608.8 694.6h0M613.9 702.2h0M566.7 778.3h0M577.5 752.9h0M798.4 783.6h0M696.5 850.3h0M707.9 849.7h0M704.7 855.7h0M609.8 843.5h0M621.4 876.7h0M632.1 922.1h0M711.1 939.1h0M715.4 938.4h0M335.0 722.8h0M337.2 730.3h0M322.0 735.8h0M343.7 740.1h0M343.7 747.7h0M348.0 745.9h0M338.3 762.8h0M346.9 788.4h0M389.2 807.3h0M341.5 836.5h0M377.3 836.5h0M324.2 843.4h0M426.0 831.1h0M435.8 836.1h0M442.3 836.5h0M473.7 849.5h0M518.9 970.7h0M524.7 1013.7h0M440.3 1042.9h0" stroke="#8055f3"/>
<path d="M812.8 292.2h0M988.3 750.0h0M980.0 762.8h0M543.3 771.2h0" stroke="#673df8"/>
<path d="M802.9 311.9h0" stroke="#0000ff"/>
</g>
<g fill="#000">
<rect x="94" y="51" width="3" height="1070"/>
<rect x="94" y="1118" width="1023.6" height="3"/>
<rect x="140.10" y="1121" width="3" height="3.7"/>
<rect x="305.90" y="1121" width="3" height="3.7"/>
<rect x="471.70" y="1121" width="3" height="3.7"/>
<rect x="637.50" y="1121" width="3" height="3.7"/>
<rect x="803.30" y="1121" width="3" height="3.7"/>
<rect x="969.10" y="1121" width="3" height="3.7"/>
<rect x="90.2" y="275.80" width="3.8" height="3"/>
<rect x="90.2" y="569.90" width="3.8" height="3"/>
<rect x="90.2" y="864.00" width="3.8" height="3"/>
</g>
<g font-family="Liberation Sans, Arial, sans-serif" font-size="30" fill="#000">
<text x="141.60" y="1147.8" text-anchor="middle">-15</text>
<text x="307.40" y="1147.8" text-anchor="middle">-10</text>
<text x="473.20" y="1147.8" text-anchor="middle">-5</text>
<text x="639.00" y="1147.8" text-anchor="middle">0</text>
<text x="804.80" y="1147.8" text-anchor="middle">5</text>
<text x="970.60" y="1147.8" text-anchor="middle">10</text>
<text x="87.8" y="287.90" text-anchor="end">10</text>
<text x="87.8" y="582.00" text-anchor="end">0</text>
<text x="87.8" y="876.10" text-anchor="end">-10</text>
</g>
<text x="606" y="37.1" text-anchor="middle" font-family="Liberation Sans, Arial, sans-serif" font-weight="bold" font-size="35">Mrpl2</text>
<text x="604" y="1181" text-anchor="middle" font-family="Liberation Sans, Arial, sans-serif" font-size="30">umapNC_1</text>
<text transform="translate(34.2 585.5) rotate(-90)" text-anchor="middle" font-family="Liberation Sans, Arial, sans-serif" font-size="30">umapNC_2</text>
<defs><linearGradient id="lg" x1="0" y1="1" x2="0" y2="0">
<stop offset="0" stop-color="#d3d3d3"/>
<stop offset="0.1" stop-color="#cac0d9"/>
<stop offset="0.2" stop-color="#c1aede"/>
<stop offset="0.3" stop-color="#b69ce3"/>
<stop offset="0.4" stop-color="#aa89e7"/>
<stop offset="0.5" stop-color="#9d77ec"/>
<stop offset="0.6" stop-color="#8e65f0"/>
<stop offset="0.7" stop-color="#7c51f4"/>
<stop offset="0.8" stop-color="#673df8"/>
<stop offset="0.9" stop-color="#4926fb"/>
<stop offset="1" stop-color="#0000ff"/>
</linearGradient></defs>
<rect x="1130.1" y="547.5" width="15.5" height="76.3" fill="url(#lg)"/>
<rect x="1130.1" y="567.0" width="3" height="1" fill="#fff"/>
<rect x="1142.6" y="567.0" width="3" height="1" fill="#fff"/>
<rect x="1130.1" y="585.9" width="3" height="1" fill="#fff"/>
<rect x="1142.6" y="585.9" width="3" height="1" fill="#fff"/>
<rect x="1130.1" y="604.9" width="3" height="1" fill="#fff"/>
<rect x="1142.6" y="604.9" width="3" height="1" fill="#fff"/>
<g font-family="Liberation Sans, Arial, sans-serif" font-size="25" fill="#000">
<text x="1154" y="557.60">1.6</text>
<text x="1154" y="576.60">1.2</text>
<text x="1154" y="595.50">0.8</text>
<text x="1154" y="614.50">0.4</text>
<text x="1154" y="633.50">0.0</text>
</g>
</svg>
</body></html>
